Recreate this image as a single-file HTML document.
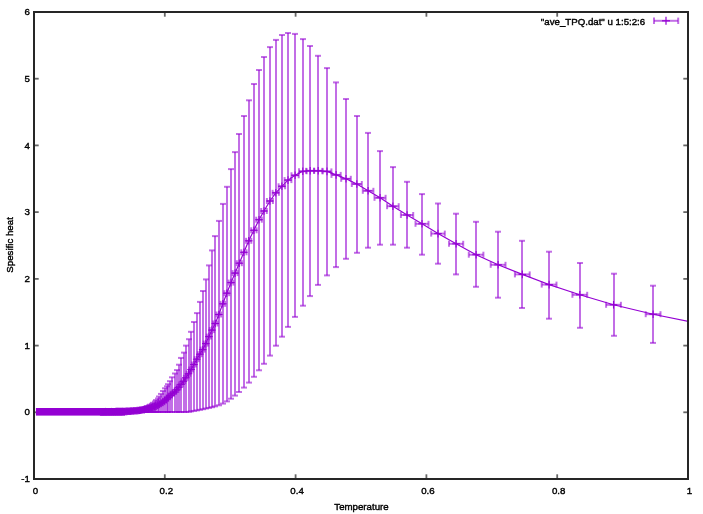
<!DOCTYPE html>
<html><head><meta charset="utf-8"><style>
html,body{margin:0;padding:0;background:#fff;}
body{width:703px;height:514px;overflow:hidden;}
svg{display:block;will-change:transform;}
text{font-family:"Liberation Sans",sans-serif;font-size:9.7px;fill:#000;stroke:#000;stroke-width:0.4px;}
</style></head><body>
<svg width="703" height="514" viewBox="0 0 703 514">
<rect width="703" height="514" fill="#fff"/>
<g stroke="#000" stroke-opacity="0.6" stroke-width="1.8" fill="none">
<line x1="34.0" y1="412.3" x2="38.7" y2="412.3"/>
<line x1="688.0" y1="412.3" x2="683.3" y2="412.3"/>
<line x1="34.0" y1="345.6" x2="38.7" y2="345.6"/>
<line x1="688.0" y1="345.6" x2="683.3" y2="345.6"/>
<line x1="34.0" y1="278.9" x2="38.7" y2="278.9"/>
<line x1="688.0" y1="278.9" x2="683.3" y2="278.9"/>
<line x1="34.0" y1="212.1" x2="38.7" y2="212.1"/>
<line x1="688.0" y1="212.1" x2="683.3" y2="212.1"/>
<line x1="34.0" y1="145.4" x2="38.7" y2="145.4"/>
<line x1="688.0" y1="145.4" x2="683.3" y2="145.4"/>
<line x1="34.0" y1="78.7" x2="38.7" y2="78.7"/>
<line x1="688.0" y1="78.7" x2="683.3" y2="78.7"/>
<line x1="164.8" y1="479.0" x2="164.8" y2="474.3"/>
<line x1="164.8" y1="12.0" x2="164.8" y2="16.7"/>
<line x1="295.6" y1="479.0" x2="295.6" y2="474.3"/>
<line x1="295.6" y1="12.0" x2="295.6" y2="16.7"/>
<line x1="426.4" y1="479.0" x2="426.4" y2="474.3"/>
<line x1="426.4" y1="12.0" x2="426.4" y2="16.7"/>
<line x1="557.2" y1="479.0" x2="557.2" y2="474.3"/>
<line x1="557.2" y1="12.0" x2="557.2" y2="16.7"/>
</g>
<svg x="0" y="0" width="703" height="514" overflow="visible">
<defs><clipPath id="c"><rect x="34.0" y="12.0" width="654.0" height="467.0"/></clipPath></defs>
<g clip-path="url(#c)">
<g stroke="#9400d3" fill="none" stroke-linecap="butt">
<rect x="35.9" y="408.0" width="89.1" height="7.6" fill="#9400d3" stroke="none"/>
<line x1="653.0" y1="285.7" x2="653.0" y2="342.9" stroke-width="2" stroke-opacity="0.57"/>
<line x1="650.0" y1="285.7" x2="656.0" y2="285.7" stroke-width="2" stroke-opacity="0.57"/>
<line x1="650.0" y1="342.9" x2="656.0" y2="342.9" stroke-width="2" stroke-opacity="0.57"/>
<line x1="645.7" y1="314.2" x2="660.5" y2="314.2" stroke-width="2" stroke-opacity="0.57"/>
<line x1="645.7" y1="311.2" x2="645.7" y2="317.2" stroke-width="2" stroke-opacity="0.57"/>
<line x1="660.5" y1="311.2" x2="660.5" y2="317.2" stroke-width="2" stroke-opacity="0.57"/>
<line x1="649.3" y1="314.2" x2="656.9" y2="314.2" stroke-width="1.1" stroke-opacity="1"/>
<line x1="653.1" y1="310.4" x2="653.1" y2="318.0" stroke-width="1.1" stroke-opacity="1"/>
<line x1="614.0" y1="273.7" x2="614.0" y2="335.8" stroke-width="2" stroke-opacity="0.57"/>
<line x1="611.0" y1="273.7" x2="617.0" y2="273.7" stroke-width="2" stroke-opacity="0.57"/>
<line x1="611.0" y1="335.8" x2="617.0" y2="335.8" stroke-width="2" stroke-opacity="0.57"/>
<line x1="606.1" y1="304.8" x2="620.9" y2="304.8" stroke-width="2" stroke-opacity="0.57"/>
<line x1="606.1" y1="301.8" x2="606.1" y2="307.8" stroke-width="2" stroke-opacity="0.57"/>
<line x1="620.9" y1="301.8" x2="620.9" y2="307.8" stroke-width="2" stroke-opacity="0.57"/>
<line x1="609.7" y1="304.8" x2="617.3" y2="304.8" stroke-width="1.1" stroke-opacity="1"/>
<line x1="613.5" y1="301.0" x2="613.5" y2="308.6" stroke-width="1.1" stroke-opacity="1"/>
<line x1="580.0" y1="263.0" x2="580.0" y2="327.8" stroke-width="2" stroke-opacity="0.57"/>
<line x1="577.0" y1="263.0" x2="583.0" y2="263.0" stroke-width="2" stroke-opacity="0.57"/>
<line x1="577.0" y1="327.8" x2="583.0" y2="327.8" stroke-width="2" stroke-opacity="0.57"/>
<line x1="572.4" y1="294.8" x2="587.2" y2="294.8" stroke-width="2" stroke-opacity="0.57"/>
<line x1="572.4" y1="291.8" x2="572.4" y2="297.8" stroke-width="2" stroke-opacity="0.57"/>
<line x1="587.2" y1="291.8" x2="587.2" y2="297.8" stroke-width="2" stroke-opacity="0.57"/>
<line x1="576.0" y1="294.8" x2="583.6" y2="294.8" stroke-width="1.1" stroke-opacity="1"/>
<line x1="579.8" y1="291.0" x2="579.8" y2="298.6" stroke-width="1.1" stroke-opacity="1"/>
<line x1="549.0" y1="251.7" x2="549.0" y2="318.7" stroke-width="2" stroke-opacity="0.57"/>
<line x1="546.0" y1="251.7" x2="552.0" y2="251.7" stroke-width="2" stroke-opacity="0.57"/>
<line x1="546.0" y1="318.7" x2="552.0" y2="318.7" stroke-width="2" stroke-opacity="0.57"/>
<line x1="541.7" y1="284.6" x2="556.5" y2="284.6" stroke-width="2" stroke-opacity="0.57"/>
<line x1="541.7" y1="281.6" x2="541.7" y2="287.6" stroke-width="2" stroke-opacity="0.57"/>
<line x1="556.5" y1="281.6" x2="556.5" y2="287.6" stroke-width="2" stroke-opacity="0.57"/>
<line x1="545.3" y1="284.6" x2="552.9" y2="284.6" stroke-width="1.1" stroke-opacity="1"/>
<line x1="549.1" y1="280.8" x2="549.1" y2="288.4" stroke-width="1.1" stroke-opacity="1"/>
<line x1="522.0" y1="240.8" x2="522.0" y2="308.0" stroke-width="2" stroke-opacity="0.57"/>
<line x1="519.0" y1="240.8" x2="525.0" y2="240.8" stroke-width="2" stroke-opacity="0.57"/>
<line x1="519.0" y1="308.0" x2="525.0" y2="308.0" stroke-width="2" stroke-opacity="0.57"/>
<line x1="514.9" y1="274.4" x2="529.7" y2="274.4" stroke-width="2" stroke-opacity="0.57"/>
<line x1="514.9" y1="271.4" x2="514.9" y2="277.4" stroke-width="2" stroke-opacity="0.57"/>
<line x1="529.7" y1="271.4" x2="529.7" y2="277.4" stroke-width="2" stroke-opacity="0.57"/>
<line x1="518.5" y1="274.4" x2="526.1" y2="274.4" stroke-width="1.1" stroke-opacity="1"/>
<line x1="522.3" y1="270.6" x2="522.3" y2="278.2" stroke-width="1.1" stroke-opacity="1"/>
<line x1="498.0" y1="231.7" x2="498.0" y2="297.7" stroke-width="2" stroke-opacity="0.57"/>
<line x1="495.0" y1="231.7" x2="501.0" y2="231.7" stroke-width="2" stroke-opacity="0.57"/>
<line x1="495.0" y1="297.7" x2="501.0" y2="297.7" stroke-width="2" stroke-opacity="0.57"/>
<line x1="490.7" y1="264.8" x2="505.5" y2="264.8" stroke-width="2" stroke-opacity="0.57"/>
<line x1="490.7" y1="261.8" x2="490.7" y2="267.8" stroke-width="2" stroke-opacity="0.57"/>
<line x1="505.5" y1="261.8" x2="505.5" y2="267.8" stroke-width="2" stroke-opacity="0.57"/>
<line x1="494.3" y1="264.8" x2="501.9" y2="264.8" stroke-width="1.1" stroke-opacity="1"/>
<line x1="498.1" y1="261.0" x2="498.1" y2="268.6" stroke-width="1.1" stroke-opacity="1"/>
<line x1="476.0" y1="221.8" x2="476.0" y2="286.8" stroke-width="2" stroke-opacity="0.57"/>
<line x1="473.0" y1="221.8" x2="479.0" y2="221.8" stroke-width="2" stroke-opacity="0.57"/>
<line x1="473.0" y1="286.8" x2="479.0" y2="286.8" stroke-width="2" stroke-opacity="0.57"/>
<line x1="468.8" y1="254.7" x2="483.4" y2="254.7" stroke-width="2" stroke-opacity="0.57"/>
<line x1="468.8" y1="251.7" x2="468.8" y2="257.7" stroke-width="2" stroke-opacity="0.57"/>
<line x1="483.4" y1="251.7" x2="483.4" y2="257.7" stroke-width="2" stroke-opacity="0.57"/>
<line x1="472.3" y1="254.7" x2="479.9" y2="254.7" stroke-width="1.1" stroke-opacity="1"/>
<line x1="476.1" y1="250.9" x2="476.1" y2="258.5" stroke-width="1.1" stroke-opacity="1"/>
<line x1="456.0" y1="213.7" x2="456.0" y2="274.4" stroke-width="2" stroke-opacity="0.57"/>
<line x1="453.0" y1="213.7" x2="459.0" y2="213.7" stroke-width="2" stroke-opacity="0.57"/>
<line x1="453.0" y1="274.4" x2="459.0" y2="274.4" stroke-width="2" stroke-opacity="0.57"/>
<line x1="449.0" y1="243.8" x2="463.2" y2="243.8" stroke-width="2" stroke-opacity="0.57"/>
<line x1="449.0" y1="240.8" x2="449.0" y2="246.8" stroke-width="2" stroke-opacity="0.57"/>
<line x1="463.2" y1="240.8" x2="463.2" y2="246.8" stroke-width="2" stroke-opacity="0.57"/>
<line x1="452.3" y1="243.8" x2="459.9" y2="243.8" stroke-width="1.1" stroke-opacity="1"/>
<line x1="456.1" y1="240.0" x2="456.1" y2="247.6" stroke-width="1.1" stroke-opacity="1"/>
<line x1="438.0" y1="203.5" x2="438.0" y2="263.7" stroke-width="2" stroke-opacity="0.57"/>
<line x1="435.0" y1="203.5" x2="441.0" y2="203.5" stroke-width="2" stroke-opacity="0.57"/>
<line x1="435.0" y1="263.7" x2="441.0" y2="263.7" stroke-width="2" stroke-opacity="0.57"/>
<line x1="431.2" y1="233.6" x2="444.8" y2="233.6" stroke-width="2" stroke-opacity="0.57"/>
<line x1="431.2" y1="230.6" x2="431.2" y2="236.6" stroke-width="2" stroke-opacity="0.57"/>
<line x1="444.8" y1="230.6" x2="444.8" y2="236.6" stroke-width="2" stroke-opacity="0.57"/>
<line x1="434.2" y1="233.6" x2="441.8" y2="233.6" stroke-width="1.1" stroke-opacity="1"/>
<line x1="438.0" y1="229.8" x2="438.0" y2="237.4" stroke-width="1.1" stroke-opacity="1"/>
<line x1="422.0" y1="194.1" x2="422.0" y2="254.7" stroke-width="2" stroke-opacity="0.57"/>
<line x1="419.0" y1="194.1" x2="425.0" y2="194.1" stroke-width="2" stroke-opacity="0.57"/>
<line x1="419.0" y1="254.7" x2="425.0" y2="254.7" stroke-width="2" stroke-opacity="0.57"/>
<line x1="415.5" y1="223.8" x2="428.5" y2="223.8" stroke-width="2" stroke-opacity="0.57"/>
<line x1="415.5" y1="220.8" x2="415.5" y2="226.8" stroke-width="2" stroke-opacity="0.57"/>
<line x1="428.5" y1="220.8" x2="428.5" y2="226.8" stroke-width="2" stroke-opacity="0.57"/>
<line x1="418.2" y1="223.8" x2="425.8" y2="223.8" stroke-width="1.1" stroke-opacity="1"/>
<line x1="422.0" y1="220.0" x2="422.0" y2="227.6" stroke-width="1.1" stroke-opacity="1"/>
<line x1="407.0" y1="181.8" x2="407.0" y2="247.7" stroke-width="2" stroke-opacity="0.57"/>
<line x1="404.0" y1="181.8" x2="410.0" y2="181.8" stroke-width="2" stroke-opacity="0.57"/>
<line x1="404.0" y1="247.7" x2="410.0" y2="247.7" stroke-width="2" stroke-opacity="0.57"/>
<line x1="400.9" y1="215.0" x2="413.2" y2="215.0" stroke-width="2" stroke-opacity="0.57"/>
<line x1="400.9" y1="212.0" x2="400.9" y2="218.0" stroke-width="2" stroke-opacity="0.57"/>
<line x1="413.2" y1="212.0" x2="413.2" y2="218.0" stroke-width="2" stroke-opacity="0.57"/>
<line x1="403.2" y1="215.0" x2="410.9" y2="215.0" stroke-width="1.1" stroke-opacity="1"/>
<line x1="407.1" y1="211.2" x2="407.1" y2="218.8" stroke-width="1.1" stroke-opacity="1"/>
<line x1="393.0" y1="167.1" x2="393.0" y2="244.7" stroke-width="2" stroke-opacity="0.57"/>
<line x1="390.0" y1="167.1" x2="396.0" y2="167.1" stroke-width="2" stroke-opacity="0.57"/>
<line x1="390.0" y1="244.7" x2="396.0" y2="244.7" stroke-width="2" stroke-opacity="0.57"/>
<line x1="387.1" y1="206.2" x2="398.7" y2="206.2" stroke-width="2" stroke-opacity="0.57"/>
<line x1="387.1" y1="203.2" x2="387.1" y2="209.2" stroke-width="2" stroke-opacity="0.57"/>
<line x1="398.7" y1="203.2" x2="398.7" y2="209.2" stroke-width="2" stroke-opacity="0.57"/>
<line x1="389.1" y1="206.2" x2="396.7" y2="206.2" stroke-width="1.1" stroke-opacity="1"/>
<line x1="392.9" y1="202.4" x2="392.9" y2="210.0" stroke-width="1.1" stroke-opacity="1"/>
<line x1="380.0" y1="151.1" x2="380.0" y2="244.7" stroke-width="2" stroke-opacity="0.57"/>
<line x1="377.0" y1="151.1" x2="383.0" y2="151.1" stroke-width="2" stroke-opacity="0.57"/>
<line x1="377.0" y1="244.7" x2="383.0" y2="244.7" stroke-width="2" stroke-opacity="0.57"/>
<line x1="374.5" y1="197.8" x2="385.6" y2="197.8" stroke-width="2" stroke-opacity="0.57"/>
<line x1="374.5" y1="194.8" x2="374.5" y2="200.8" stroke-width="2" stroke-opacity="0.57"/>
<line x1="385.6" y1="194.8" x2="385.6" y2="200.8" stroke-width="2" stroke-opacity="0.57"/>
<line x1="376.2" y1="197.8" x2="383.9" y2="197.8" stroke-width="1.1" stroke-opacity="1"/>
<line x1="380.1" y1="194.0" x2="380.1" y2="201.6" stroke-width="1.1" stroke-opacity="1"/>
<line x1="368.0" y1="132.9" x2="368.0" y2="247.7" stroke-width="2" stroke-opacity="0.57"/>
<line x1="365.0" y1="132.9" x2="371.0" y2="132.9" stroke-width="2" stroke-opacity="0.57"/>
<line x1="365.0" y1="247.7" x2="371.0" y2="247.7" stroke-width="2" stroke-opacity="0.57"/>
<line x1="362.8" y1="190.8" x2="373.4" y2="190.8" stroke-width="2" stroke-opacity="0.57"/>
<line x1="362.8" y1="187.8" x2="362.8" y2="193.8" stroke-width="2" stroke-opacity="0.57"/>
<line x1="373.4" y1="187.8" x2="373.4" y2="193.8" stroke-width="2" stroke-opacity="0.57"/>
<line x1="364.3" y1="190.8" x2="371.9" y2="190.8" stroke-width="1.1" stroke-opacity="1"/>
<line x1="368.1" y1="187.0" x2="368.1" y2="194.6" stroke-width="1.1" stroke-opacity="1"/>
<line x1="357.0" y1="116.0" x2="357.0" y2="252.8" stroke-width="2" stroke-opacity="0.57"/>
<line x1="354.0" y1="116.0" x2="360.0" y2="116.0" stroke-width="2" stroke-opacity="0.57"/>
<line x1="354.0" y1="252.8" x2="360.0" y2="252.8" stroke-width="2" stroke-opacity="0.57"/>
<line x1="351.8" y1="184.0" x2="361.8" y2="184.0" stroke-width="2" stroke-opacity="0.57"/>
<line x1="351.8" y1="181.0" x2="351.8" y2="187.0" stroke-width="2" stroke-opacity="0.57"/>
<line x1="361.8" y1="181.0" x2="361.8" y2="187.0" stroke-width="2" stroke-opacity="0.57"/>
<line x1="353.0" y1="184.0" x2="360.6" y2="184.0" stroke-width="1.1" stroke-opacity="1"/>
<line x1="356.8" y1="180.2" x2="356.8" y2="187.8" stroke-width="1.1" stroke-opacity="1"/>
<line x1="346.0" y1="99.0" x2="346.0" y2="258.8" stroke-width="2" stroke-opacity="0.57"/>
<line x1="343.0" y1="99.0" x2="349.0" y2="99.0" stroke-width="2" stroke-opacity="0.57"/>
<line x1="343.0" y1="258.8" x2="349.0" y2="258.8" stroke-width="2" stroke-opacity="0.57"/>
<line x1="341.2" y1="178.8" x2="350.8" y2="178.8" stroke-width="2" stroke-opacity="0.57"/>
<line x1="341.2" y1="175.8" x2="341.2" y2="181.8" stroke-width="2" stroke-opacity="0.57"/>
<line x1="350.8" y1="175.8" x2="350.8" y2="181.8" stroke-width="2" stroke-opacity="0.57"/>
<line x1="342.2" y1="178.8" x2="349.8" y2="178.8" stroke-width="1.1" stroke-opacity="1"/>
<line x1="346.0" y1="175.0" x2="346.0" y2="182.6" stroke-width="1.1" stroke-opacity="1"/>
<line x1="336.0" y1="82.4" x2="336.0" y2="267.1" stroke-width="2" stroke-opacity="0.57"/>
<line x1="333.0" y1="82.4" x2="339.0" y2="82.4" stroke-width="2" stroke-opacity="0.57"/>
<line x1="333.0" y1="267.1" x2="339.0" y2="267.1" stroke-width="2" stroke-opacity="0.57"/>
<line x1="331.5" y1="174.9" x2="340.7" y2="174.9" stroke-width="2" stroke-opacity="0.57"/>
<line x1="331.5" y1="171.9" x2="331.5" y2="177.9" stroke-width="2" stroke-opacity="0.57"/>
<line x1="340.7" y1="171.9" x2="340.7" y2="177.9" stroke-width="2" stroke-opacity="0.57"/>
<line x1="332.3" y1="174.9" x2="339.9" y2="174.9" stroke-width="1.1" stroke-opacity="1"/>
<line x1="336.1" y1="171.1" x2="336.1" y2="178.7" stroke-width="1.1" stroke-opacity="1"/>
<line x1="327.0" y1="68.1" x2="327.0" y2="275.4" stroke-width="2" stroke-opacity="0.57"/>
<line x1="324.0" y1="68.1" x2="330.0" y2="68.1" stroke-width="2" stroke-opacity="0.57"/>
<line x1="324.0" y1="275.4" x2="330.0" y2="275.4" stroke-width="2" stroke-opacity="0.57"/>
<line x1="322.6" y1="171.4" x2="331.4" y2="171.4" stroke-width="2" stroke-opacity="0.57"/>
<line x1="322.6" y1="168.4" x2="322.6" y2="174.4" stroke-width="2" stroke-opacity="0.57"/>
<line x1="331.4" y1="168.4" x2="331.4" y2="174.4" stroke-width="2" stroke-opacity="0.57"/>
<line x1="323.2" y1="171.4" x2="330.8" y2="171.4" stroke-width="1.1" stroke-opacity="1"/>
<line x1="327.0" y1="167.6" x2="327.0" y2="175.2" stroke-width="1.1" stroke-opacity="1"/>
<line x1="318.0" y1="55.8" x2="318.0" y2="284.9" stroke-width="2" stroke-opacity="0.57"/>
<line x1="315.0" y1="55.8" x2="321.0" y2="55.8" stroke-width="2" stroke-opacity="0.57"/>
<line x1="315.0" y1="284.9" x2="321.0" y2="284.9" stroke-width="2" stroke-opacity="0.57"/>
<line x1="314.0" y1="170.8" x2="322.4" y2="170.8" stroke-width="2" stroke-opacity="0.57"/>
<line x1="314.0" y1="167.8" x2="314.0" y2="173.8" stroke-width="2" stroke-opacity="0.57"/>
<line x1="322.4" y1="167.8" x2="322.4" y2="173.8" stroke-width="2" stroke-opacity="0.57"/>
<line x1="314.4" y1="170.8" x2="322.0" y2="170.8" stroke-width="1.1" stroke-opacity="1"/>
<line x1="318.2" y1="167.0" x2="318.2" y2="174.6" stroke-width="1.1" stroke-opacity="1"/>
<line x1="310.0" y1="46.0" x2="310.0" y2="296.1" stroke-width="2" stroke-opacity="0.57"/>
<line x1="307.0" y1="46.0" x2="313.0" y2="46.0" stroke-width="2" stroke-opacity="0.57"/>
<line x1="307.0" y1="296.1" x2="313.0" y2="296.1" stroke-width="2" stroke-opacity="0.57"/>
<line x1="306.2" y1="170.8" x2="314.2" y2="170.8" stroke-width="2" stroke-opacity="0.57"/>
<line x1="306.2" y1="167.8" x2="306.2" y2="173.8" stroke-width="2" stroke-opacity="0.57"/>
<line x1="314.2" y1="167.8" x2="314.2" y2="173.8" stroke-width="2" stroke-opacity="0.57"/>
<line x1="306.4" y1="170.8" x2="314.0" y2="170.8" stroke-width="1.1" stroke-opacity="1"/>
<line x1="310.2" y1="167.0" x2="310.2" y2="174.6" stroke-width="1.1" stroke-opacity="1"/>
<line x1="303.0" y1="39.1" x2="303.0" y2="305.7" stroke-width="2" stroke-opacity="0.57"/>
<line x1="300.0" y1="39.1" x2="306.0" y2="39.1" stroke-width="2" stroke-opacity="0.57"/>
<line x1="300.0" y1="305.7" x2="306.0" y2="305.7" stroke-width="2" stroke-opacity="0.57"/>
<line x1="299.0" y1="171.3" x2="306.6" y2="171.3" stroke-width="2" stroke-opacity="0.57"/>
<line x1="299.0" y1="168.3" x2="299.0" y2="174.3" stroke-width="2" stroke-opacity="0.57"/>
<line x1="306.6" y1="168.3" x2="306.6" y2="174.3" stroke-width="2" stroke-opacity="0.57"/>
<line x1="299.0" y1="171.3" x2="306.6" y2="171.3" stroke-width="1.1" stroke-opacity="1"/>
<line x1="302.8" y1="167.5" x2="302.8" y2="175.1" stroke-width="1.1" stroke-opacity="1"/>
<line x1="295.0" y1="33.9" x2="295.0" y2="316.9" stroke-width="2" stroke-opacity="0.57"/>
<line x1="292.0" y1="33.9" x2="298.0" y2="33.9" stroke-width="2" stroke-opacity="0.57"/>
<line x1="292.0" y1="316.9" x2="298.0" y2="316.9" stroke-width="2" stroke-opacity="0.57"/>
<line x1="291.5" y1="175.3" x2="298.7" y2="175.3" stroke-width="2" stroke-opacity="0.57"/>
<line x1="291.5" y1="172.3" x2="291.5" y2="178.3" stroke-width="2" stroke-opacity="0.57"/>
<line x1="298.7" y1="172.3" x2="298.7" y2="178.3" stroke-width="2" stroke-opacity="0.57"/>
<line x1="291.3" y1="175.3" x2="298.9" y2="175.3" stroke-width="1.1" stroke-opacity="1"/>
<line x1="295.1" y1="171.5" x2="295.1" y2="179.1" stroke-width="1.1" stroke-opacity="1"/>
<line x1="288.0" y1="33.0" x2="288.0" y2="326.9" stroke-width="2" stroke-opacity="0.57"/>
<line x1="285.0" y1="33.0" x2="291.0" y2="33.0" stroke-width="2" stroke-opacity="0.57"/>
<line x1="285.0" y1="326.9" x2="291.0" y2="326.9" stroke-width="2" stroke-opacity="0.57"/>
<line x1="284.6" y1="180.1" x2="291.4" y2="180.1" stroke-width="2" stroke-opacity="0.57"/>
<line x1="284.6" y1="177.1" x2="284.6" y2="183.1" stroke-width="2" stroke-opacity="0.57"/>
<line x1="291.4" y1="177.1" x2="291.4" y2="183.1" stroke-width="2" stroke-opacity="0.57"/>
<line x1="284.2" y1="180.1" x2="291.8" y2="180.1" stroke-width="1.1" stroke-opacity="1"/>
<line x1="288.0" y1="176.3" x2="288.0" y2="183.9" stroke-width="1.1" stroke-opacity="1"/>
<line x1="282.0" y1="35.0" x2="282.0" y2="336.7" stroke-width="2" stroke-opacity="0.57"/>
<line x1="279.0" y1="35.0" x2="285.0" y2="35.0" stroke-width="2" stroke-opacity="0.57"/>
<line x1="279.0" y1="336.7" x2="285.0" y2="336.7" stroke-width="2" stroke-opacity="0.57"/>
<line x1="278.6" y1="186.3" x2="285.1" y2="186.3" stroke-width="2" stroke-opacity="0.57"/>
<line x1="278.6" y1="183.3" x2="278.6" y2="189.3" stroke-width="2" stroke-opacity="0.57"/>
<line x1="285.1" y1="183.3" x2="285.1" y2="189.3" stroke-width="2" stroke-opacity="0.57"/>
<line x1="278.1" y1="186.3" x2="285.7" y2="186.3" stroke-width="1.1" stroke-opacity="1"/>
<line x1="281.9" y1="182.5" x2="281.9" y2="190.1" stroke-width="1.1" stroke-opacity="1"/>
<line x1="276.0" y1="39.9" x2="276.0" y2="345.7" stroke-width="2" stroke-opacity="0.57"/>
<line x1="273.0" y1="39.9" x2="279.0" y2="39.9" stroke-width="2" stroke-opacity="0.57"/>
<line x1="273.0" y1="345.7" x2="279.0" y2="345.7" stroke-width="2" stroke-opacity="0.57"/>
<line x1="272.6" y1="192.8" x2="278.9" y2="192.8" stroke-width="2" stroke-opacity="0.57"/>
<line x1="272.6" y1="189.8" x2="272.6" y2="195.8" stroke-width="2" stroke-opacity="0.57"/>
<line x1="278.9" y1="189.8" x2="278.9" y2="195.8" stroke-width="2" stroke-opacity="0.57"/>
<line x1="271.9" y1="192.8" x2="279.6" y2="192.8" stroke-width="1.1" stroke-opacity="1"/>
<line x1="275.8" y1="189.0" x2="275.8" y2="196.6" stroke-width="1.1" stroke-opacity="1"/>
<line x1="270.0" y1="47.1" x2="270.0" y2="355.6" stroke-width="2" stroke-opacity="0.57"/>
<line x1="267.0" y1="47.1" x2="273.0" y2="47.1" stroke-width="2" stroke-opacity="0.57"/>
<line x1="267.0" y1="355.6" x2="273.0" y2="355.6" stroke-width="2" stroke-opacity="0.57"/>
<line x1="266.9" y1="201.0" x2="272.9" y2="201.0" stroke-width="2" stroke-opacity="0.57"/>
<line x1="266.9" y1="198.0" x2="266.9" y2="204.0" stroke-width="2" stroke-opacity="0.57"/>
<line x1="272.9" y1="198.0" x2="272.9" y2="204.0" stroke-width="2" stroke-opacity="0.57"/>
<line x1="266.1" y1="201.0" x2="273.7" y2="201.0" stroke-width="1.1" stroke-opacity="1"/>
<line x1="269.9" y1="197.2" x2="269.9" y2="204.8" stroke-width="1.1" stroke-opacity="1"/>
<line x1="264.0" y1="57.0" x2="264.0" y2="363.8" stroke-width="2" stroke-opacity="0.57"/>
<line x1="261.0" y1="57.0" x2="267.0" y2="57.0" stroke-width="2" stroke-opacity="0.57"/>
<line x1="261.0" y1="363.8" x2="267.0" y2="363.8" stroke-width="2" stroke-opacity="0.57"/>
<line x1="261.2" y1="211.0" x2="266.8" y2="211.0" stroke-width="2" stroke-opacity="0.57"/>
<line x1="261.2" y1="208.0" x2="261.2" y2="214.0" stroke-width="2" stroke-opacity="0.57"/>
<line x1="266.8" y1="208.0" x2="266.8" y2="214.0" stroke-width="2" stroke-opacity="0.57"/>
<line x1="260.2" y1="211.0" x2="267.8" y2="211.0" stroke-width="1.1" stroke-opacity="1"/>
<line x1="264.0" y1="207.2" x2="264.0" y2="214.8" stroke-width="1.1" stroke-opacity="1"/>
<line x1="259.0" y1="70.0" x2="259.0" y2="370.3" stroke-width="2" stroke-opacity="0.57"/>
<line x1="256.0" y1="70.0" x2="262.0" y2="70.0" stroke-width="2" stroke-opacity="0.57"/>
<line x1="256.0" y1="370.3" x2="262.0" y2="370.3" stroke-width="2" stroke-opacity="0.57"/>
<line x1="256.2" y1="219.7" x2="261.8" y2="219.7" stroke-width="2" stroke-opacity="0.57"/>
<line x1="256.2" y1="216.7" x2="256.2" y2="222.7" stroke-width="2" stroke-opacity="0.57"/>
<line x1="261.8" y1="216.7" x2="261.8" y2="222.7" stroke-width="2" stroke-opacity="0.57"/>
<line x1="255.2" y1="219.7" x2="262.8" y2="219.7" stroke-width="1.1" stroke-opacity="1"/>
<line x1="259.0" y1="215.9" x2="259.0" y2="223.5" stroke-width="1.1" stroke-opacity="1"/>
<line x1="254.0" y1="84.0" x2="254.0" y2="376.8" stroke-width="2" stroke-opacity="0.57"/>
<line x1="251.0" y1="84.0" x2="257.0" y2="84.0" stroke-width="2" stroke-opacity="0.57"/>
<line x1="251.0" y1="376.8" x2="257.0" y2="376.8" stroke-width="2" stroke-opacity="0.57"/>
<line x1="251.2" y1="230.3" x2="256.6" y2="230.3" stroke-width="2" stroke-opacity="0.57"/>
<line x1="251.2" y1="227.3" x2="251.2" y2="233.3" stroke-width="2" stroke-opacity="0.57"/>
<line x1="256.6" y1="227.3" x2="256.6" y2="233.3" stroke-width="2" stroke-opacity="0.57"/>
<line x1="250.1" y1="230.3" x2="257.7" y2="230.3" stroke-width="1.1" stroke-opacity="1"/>
<line x1="253.9" y1="226.5" x2="253.9" y2="234.1" stroke-width="1.1" stroke-opacity="1"/>
<line x1="249.0" y1="100.3" x2="249.0" y2="382.6" stroke-width="2" stroke-opacity="0.57"/>
<line x1="246.0" y1="100.3" x2="252.0" y2="100.3" stroke-width="2" stroke-opacity="0.57"/>
<line x1="246.0" y1="382.6" x2="252.0" y2="382.6" stroke-width="2" stroke-opacity="0.57"/>
<line x1="246.1" y1="240.8" x2="251.3" y2="240.8" stroke-width="2" stroke-opacity="0.57"/>
<line x1="246.1" y1="237.8" x2="246.1" y2="243.8" stroke-width="2" stroke-opacity="0.57"/>
<line x1="251.3" y1="237.8" x2="251.3" y2="243.8" stroke-width="2" stroke-opacity="0.57"/>
<line x1="244.9" y1="240.8" x2="252.5" y2="240.8" stroke-width="1.1" stroke-opacity="1"/>
<line x1="248.7" y1="237.0" x2="248.7" y2="244.6" stroke-width="1.1" stroke-opacity="1"/>
<line x1="244.0" y1="116.0" x2="244.0" y2="387.6" stroke-width="2" stroke-opacity="0.57"/>
<line x1="241.0" y1="116.0" x2="247.0" y2="116.0" stroke-width="2" stroke-opacity="0.57"/>
<line x1="241.0" y1="387.6" x2="247.0" y2="387.6" stroke-width="2" stroke-opacity="0.57"/>
<line x1="241.3" y1="252.3" x2="246.5" y2="252.3" stroke-width="2" stroke-opacity="0.57"/>
<line x1="241.3" y1="249.3" x2="241.3" y2="255.3" stroke-width="2" stroke-opacity="0.57"/>
<line x1="246.5" y1="249.3" x2="246.5" y2="255.3" stroke-width="2" stroke-opacity="0.57"/>
<line x1="240.1" y1="252.3" x2="247.7" y2="252.3" stroke-width="1.1" stroke-opacity="1"/>
<line x1="243.9" y1="248.5" x2="243.9" y2="256.1" stroke-width="1.1" stroke-opacity="1"/>
<line x1="239.0" y1="134.0" x2="239.0" y2="392.0" stroke-width="2" stroke-opacity="0.57"/>
<line x1="236.0" y1="134.0" x2="242.0" y2="134.0" stroke-width="2" stroke-opacity="0.57"/>
<line x1="236.0" y1="392.0" x2="242.0" y2="392.0" stroke-width="2" stroke-opacity="0.57"/>
<line x1="236.8" y1="263.2" x2="241.8" y2="263.2" stroke-width="2" stroke-opacity="0.57"/>
<line x1="236.8" y1="260.2" x2="236.8" y2="266.2" stroke-width="2" stroke-opacity="0.57"/>
<line x1="241.8" y1="260.2" x2="241.8" y2="266.2" stroke-width="2" stroke-opacity="0.57"/>
<line x1="235.5" y1="263.2" x2="243.1" y2="263.2" stroke-width="1.1" stroke-opacity="1"/>
<line x1="239.3" y1="259.4" x2="239.3" y2="267.0" stroke-width="1.1" stroke-opacity="1"/>
<line x1="235.0" y1="152.1" x2="235.0" y2="395.6" stroke-width="2" stroke-opacity="0.57"/>
<line x1="232.0" y1="152.1" x2="238.0" y2="152.1" stroke-width="2" stroke-opacity="0.57"/>
<line x1="232.0" y1="395.6" x2="238.0" y2="395.6" stroke-width="2" stroke-opacity="0.57"/>
<line x1="232.6" y1="273.1" x2="237.6" y2="273.1" stroke-width="2" stroke-opacity="0.57"/>
<line x1="232.6" y1="270.1" x2="232.6" y2="276.1" stroke-width="2" stroke-opacity="0.57"/>
<line x1="237.6" y1="270.1" x2="237.6" y2="276.1" stroke-width="2" stroke-opacity="0.57"/>
<line x1="231.3" y1="273.1" x2="238.9" y2="273.1" stroke-width="1.1" stroke-opacity="1"/>
<line x1="235.1" y1="269.3" x2="235.1" y2="276.9" stroke-width="1.1" stroke-opacity="1"/>
<line x1="231.0" y1="169.1" x2="231.0" y2="398.7" stroke-width="2" stroke-opacity="0.57"/>
<line x1="228.0" y1="169.1" x2="234.0" y2="169.1" stroke-width="2" stroke-opacity="0.57"/>
<line x1="228.0" y1="398.7" x2="234.0" y2="398.7" stroke-width="2" stroke-opacity="0.57"/>
<line x1="228.6" y1="282.6" x2="233.4" y2="282.6" stroke-width="2" stroke-opacity="0.57"/>
<line x1="228.6" y1="279.6" x2="228.6" y2="285.6" stroke-width="2" stroke-opacity="0.57"/>
<line x1="233.4" y1="279.6" x2="233.4" y2="285.6" stroke-width="2" stroke-opacity="0.57"/>
<line x1="227.2" y1="282.6" x2="234.8" y2="282.6" stroke-width="1.1" stroke-opacity="1"/>
<line x1="231.0" y1="278.8" x2="231.0" y2="286.4" stroke-width="1.1" stroke-opacity="1"/>
<line x1="227.0" y1="186.8" x2="227.0" y2="401.4" stroke-width="2" stroke-opacity="0.57"/>
<line x1="224.0" y1="186.8" x2="230.0" y2="186.8" stroke-width="2" stroke-opacity="0.57"/>
<line x1="224.0" y1="401.4" x2="230.0" y2="401.4" stroke-width="2" stroke-opacity="0.57"/>
<line x1="224.4" y1="293.2" x2="229.2" y2="293.2" stroke-width="2" stroke-opacity="0.57"/>
<line x1="224.4" y1="290.2" x2="224.4" y2="296.2" stroke-width="2" stroke-opacity="0.57"/>
<line x1="229.2" y1="290.2" x2="229.2" y2="296.2" stroke-width="2" stroke-opacity="0.57"/>
<line x1="223.0" y1="293.2" x2="230.6" y2="293.2" stroke-width="1.1" stroke-opacity="1"/>
<line x1="226.8" y1="289.4" x2="226.8" y2="297.0" stroke-width="1.1" stroke-opacity="1"/>
<line x1="223.0" y1="203.9" x2="223.0" y2="403.6" stroke-width="2" stroke-opacity="0.57"/>
<line x1="220.0" y1="203.9" x2="226.0" y2="203.9" stroke-width="2" stroke-opacity="0.57"/>
<line x1="220.0" y1="403.6" x2="226.0" y2="403.6" stroke-width="2" stroke-opacity="0.57"/>
<line x1="220.5" y1="303.8" x2="225.1" y2="303.8" stroke-width="2" stroke-opacity="0.57"/>
<line x1="220.5" y1="300.8" x2="220.5" y2="306.8" stroke-width="2" stroke-opacity="0.57"/>
<line x1="225.1" y1="300.8" x2="225.1" y2="306.8" stroke-width="2" stroke-opacity="0.57"/>
<line x1="219.0" y1="303.8" x2="226.6" y2="303.8" stroke-width="1.1" stroke-opacity="1"/>
<line x1="222.8" y1="300.0" x2="222.8" y2="307.6" stroke-width="1.1" stroke-opacity="1"/>
<line x1="219.0" y1="220.9" x2="219.0" y2="405.3" stroke-width="2" stroke-opacity="0.57"/>
<line x1="216.0" y1="220.9" x2="222.0" y2="220.9" stroke-width="2" stroke-opacity="0.57"/>
<line x1="216.0" y1="405.3" x2="222.0" y2="405.3" stroke-width="2" stroke-opacity="0.57"/>
<line x1="216.5" y1="314.5" x2="221.1" y2="314.5" stroke-width="2" stroke-opacity="0.57"/>
<line x1="216.5" y1="311.5" x2="216.5" y2="317.5" stroke-width="2" stroke-opacity="0.57"/>
<line x1="221.1" y1="311.5" x2="221.1" y2="317.5" stroke-width="2" stroke-opacity="0.57"/>
<line x1="215.0" y1="314.5" x2="222.6" y2="314.5" stroke-width="1.1" stroke-opacity="1"/>
<line x1="218.8" y1="310.7" x2="218.8" y2="318.3" stroke-width="1.1" stroke-opacity="1"/>
<line x1="215.0" y1="236.1" x2="215.0" y2="406.4" stroke-width="2" stroke-opacity="0.57"/>
<line x1="212.0" y1="236.1" x2="218.0" y2="236.1" stroke-width="2" stroke-opacity="0.57"/>
<line x1="212.0" y1="406.4" x2="218.0" y2="406.4" stroke-width="2" stroke-opacity="0.57"/>
<line x1="213.1" y1="323.5" x2="217.5" y2="323.5" stroke-width="2" stroke-opacity="0.57"/>
<line x1="213.1" y1="320.5" x2="213.1" y2="326.5" stroke-width="2" stroke-opacity="0.57"/>
<line x1="217.5" y1="320.5" x2="217.5" y2="326.5" stroke-width="2" stroke-opacity="0.57"/>
<line x1="211.5" y1="323.5" x2="219.1" y2="323.5" stroke-width="1.1" stroke-opacity="1"/>
<line x1="215.3" y1="319.7" x2="215.3" y2="327.3" stroke-width="1.1" stroke-opacity="1"/>
<line x1="212.0" y1="250.4" x2="212.0" y2="407.2" stroke-width="2" stroke-opacity="0.57"/>
<line x1="209.0" y1="250.4" x2="215.0" y2="250.4" stroke-width="2" stroke-opacity="0.57"/>
<line x1="209.0" y1="407.2" x2="215.0" y2="407.2" stroke-width="2" stroke-opacity="0.57"/>
<line x1="209.7" y1="330.1" x2="214.1" y2="330.1" stroke-width="2" stroke-opacity="0.57"/>
<line x1="209.7" y1="327.1" x2="209.7" y2="333.1" stroke-width="2" stroke-opacity="0.57"/>
<line x1="214.1" y1="327.1" x2="214.1" y2="333.1" stroke-width="2" stroke-opacity="0.57"/>
<line x1="208.1" y1="330.1" x2="215.7" y2="330.1" stroke-width="1.1" stroke-opacity="1"/>
<line x1="211.9" y1="326.3" x2="211.9" y2="333.9" stroke-width="1.1" stroke-opacity="1"/>
<line x1="209.0" y1="265.4" x2="209.0" y2="407.9" stroke-width="2" stroke-opacity="0.57"/>
<line x1="206.0" y1="265.4" x2="212.0" y2="265.4" stroke-width="2" stroke-opacity="0.57"/>
<line x1="206.0" y1="407.9" x2="212.0" y2="407.9" stroke-width="2" stroke-opacity="0.57"/>
<line x1="206.8" y1="336.6" x2="211.0" y2="336.6" stroke-width="2" stroke-opacity="0.57"/>
<line x1="206.8" y1="333.6" x2="206.8" y2="339.6" stroke-width="2" stroke-opacity="0.57"/>
<line x1="211.0" y1="333.6" x2="211.0" y2="339.6" stroke-width="2" stroke-opacity="0.57"/>
<line x1="205.1" y1="336.6" x2="212.7" y2="336.6" stroke-width="1.1" stroke-opacity="1"/>
<line x1="208.9" y1="332.8" x2="208.9" y2="340.4" stroke-width="1.1" stroke-opacity="1"/>
<line x1="206.0" y1="279.4" x2="206.0" y2="408.5" stroke-width="2" stroke-opacity="0.57"/>
<line x1="203.0" y1="279.4" x2="209.0" y2="279.4" stroke-width="2" stroke-opacity="0.57"/>
<line x1="203.0" y1="408.5" x2="209.0" y2="408.5" stroke-width="2" stroke-opacity="0.57"/>
<line x1="203.7" y1="343.6" x2="207.9" y2="343.6" stroke-width="2" stroke-opacity="0.57"/>
<line x1="203.7" y1="340.6" x2="203.7" y2="346.6" stroke-width="2" stroke-opacity="0.57"/>
<line x1="207.9" y1="340.6" x2="207.9" y2="346.6" stroke-width="2" stroke-opacity="0.57"/>
<line x1="202.0" y1="343.6" x2="209.6" y2="343.6" stroke-width="1.1" stroke-opacity="1"/>
<line x1="205.8" y1="339.8" x2="205.8" y2="347.4" stroke-width="1.1" stroke-opacity="1"/>
<line x1="203.0" y1="291.0" x2="203.0" y2="409.2" stroke-width="2" stroke-opacity="0.57"/>
<line x1="200.0" y1="291.0" x2="206.0" y2="291.0" stroke-width="2" stroke-opacity="0.57"/>
<line x1="200.0" y1="409.2" x2="206.0" y2="409.2" stroke-width="2" stroke-opacity="0.57"/>
<line x1="200.6" y1="349.6" x2="204.8" y2="349.6" stroke-width="2" stroke-opacity="0.57"/>
<line x1="200.6" y1="346.6" x2="200.6" y2="352.6" stroke-width="2" stroke-opacity="0.57"/>
<line x1="204.8" y1="346.6" x2="204.8" y2="352.6" stroke-width="2" stroke-opacity="0.57"/>
<line x1="198.9" y1="349.6" x2="206.5" y2="349.6" stroke-width="1.1" stroke-opacity="1"/>
<line x1="202.7" y1="345.8" x2="202.7" y2="353.4" stroke-width="1.1" stroke-opacity="1"/>
<line x1="200.0" y1="301.9" x2="200.0" y2="409.8" stroke-width="2" stroke-opacity="0.57"/>
<line x1="197.0" y1="301.9" x2="203.0" y2="301.9" stroke-width="2" stroke-opacity="0.57"/>
<line x1="197.0" y1="409.8" x2="203.0" y2="409.8" stroke-width="2" stroke-opacity="0.57"/>
<line x1="197.8" y1="354.2" x2="201.8" y2="354.2" stroke-width="2" stroke-opacity="0.57"/>
<line x1="197.8" y1="351.2" x2="197.8" y2="357.2" stroke-width="2" stroke-opacity="0.57"/>
<line x1="201.8" y1="351.2" x2="201.8" y2="357.2" stroke-width="2" stroke-opacity="0.57"/>
<line x1="196.0" y1="354.2" x2="203.6" y2="354.2" stroke-width="1.1" stroke-opacity="1"/>
<line x1="199.8" y1="350.4" x2="199.8" y2="358.0" stroke-width="1.1" stroke-opacity="1"/>
<line x1="197.0" y1="313.1" x2="197.0" y2="410.4" stroke-width="2" stroke-opacity="0.57"/>
<line x1="194.0" y1="313.1" x2="200.0" y2="313.1" stroke-width="2" stroke-opacity="0.57"/>
<line x1="194.0" y1="410.4" x2="200.0" y2="410.4" stroke-width="2" stroke-opacity="0.57"/>
<line x1="194.7" y1="359.2" x2="198.7" y2="359.2" stroke-width="2" stroke-opacity="0.57"/>
<line x1="194.7" y1="356.2" x2="194.7" y2="362.2" stroke-width="2" stroke-opacity="0.57"/>
<line x1="198.7" y1="356.2" x2="198.7" y2="362.2" stroke-width="2" stroke-opacity="0.57"/>
<line x1="192.9" y1="359.2" x2="200.5" y2="359.2" stroke-width="1.1" stroke-opacity="1"/>
<line x1="196.7" y1="355.4" x2="196.7" y2="363.0" stroke-width="1.1" stroke-opacity="1"/>
<line x1="194.0" y1="322.0" x2="194.0" y2="410.9" stroke-width="2" stroke-opacity="0.57"/>
<line x1="191.0" y1="322.0" x2="197.0" y2="322.0" stroke-width="2" stroke-opacity="0.57"/>
<line x1="191.0" y1="410.9" x2="197.0" y2="410.9" stroke-width="2" stroke-opacity="0.57"/>
<line x1="191.9" y1="364.5" x2="195.9" y2="364.5" stroke-width="2" stroke-opacity="0.57"/>
<line x1="191.9" y1="361.5" x2="191.9" y2="367.5" stroke-width="2" stroke-opacity="0.57"/>
<line x1="195.9" y1="361.5" x2="195.9" y2="367.5" stroke-width="2" stroke-opacity="0.57"/>
<line x1="190.1" y1="364.5" x2="197.7" y2="364.5" stroke-width="1.1" stroke-opacity="1"/>
<line x1="193.9" y1="360.7" x2="193.9" y2="368.3" stroke-width="1.1" stroke-opacity="1"/>
<line x1="191.0" y1="331.8" x2="191.0" y2="411.4" stroke-width="2" stroke-opacity="0.57"/>
<line x1="188.0" y1="331.8" x2="194.0" y2="331.8" stroke-width="2" stroke-opacity="0.57"/>
<line x1="188.0" y1="411.4" x2="194.0" y2="411.4" stroke-width="2" stroke-opacity="0.57"/>
<line x1="189.2" y1="369.5" x2="193.0" y2="369.5" stroke-width="2" stroke-opacity="0.57"/>
<line x1="189.2" y1="366.5" x2="189.2" y2="372.5" stroke-width="2" stroke-opacity="0.57"/>
<line x1="193.0" y1="366.5" x2="193.0" y2="372.5" stroke-width="2" stroke-opacity="0.57"/>
<line x1="187.3" y1="369.5" x2="194.9" y2="369.5" stroke-width="1.1" stroke-opacity="1"/>
<line x1="191.1" y1="365.7" x2="191.1" y2="373.3" stroke-width="1.1" stroke-opacity="1"/>
<line x1="189.0" y1="339.2" x2="189.0" y2="411.8" stroke-width="2" stroke-opacity="0.57"/>
<line x1="186.0" y1="339.2" x2="192.0" y2="339.2" stroke-width="2" stroke-opacity="0.57"/>
<line x1="186.0" y1="411.8" x2="192.0" y2="411.8" stroke-width="2" stroke-opacity="0.57"/>
<line x1="186.6" y1="373.7" x2="190.4" y2="373.7" stroke-width="2" stroke-opacity="0.57"/>
<line x1="186.6" y1="370.7" x2="186.6" y2="376.7" stroke-width="2" stroke-opacity="0.57"/>
<line x1="190.4" y1="370.7" x2="190.4" y2="376.7" stroke-width="2" stroke-opacity="0.57"/>
<line x1="184.7" y1="373.7" x2="192.3" y2="373.7" stroke-width="1.1" stroke-opacity="1"/>
<line x1="188.5" y1="369.9" x2="188.5" y2="377.5" stroke-width="1.1" stroke-opacity="1"/>
<line x1="186.0" y1="345.6" x2="186.0" y2="412.0" stroke-width="2" stroke-opacity="0.57"/>
<line x1="183.0" y1="345.6" x2="189.0" y2="345.6" stroke-width="2" stroke-opacity="0.57"/>
<line x1="183.0" y1="412.0" x2="189.0" y2="412.0" stroke-width="2" stroke-opacity="0.57"/>
<line x1="183.9" y1="377.8" x2="187.7" y2="377.8" stroke-width="2" stroke-opacity="0.57"/>
<line x1="183.9" y1="374.8" x2="183.9" y2="380.8" stroke-width="2" stroke-opacity="0.57"/>
<line x1="187.7" y1="374.8" x2="187.7" y2="380.8" stroke-width="2" stroke-opacity="0.57"/>
<line x1="182.0" y1="377.8" x2="189.6" y2="377.8" stroke-width="1.1" stroke-opacity="1"/>
<line x1="185.8" y1="374.0" x2="185.8" y2="381.6" stroke-width="1.1" stroke-opacity="1"/>
<line x1="184.0" y1="352.6" x2="184.0" y2="412.0" stroke-width="2" stroke-opacity="0.57"/>
<line x1="181.0" y1="352.6" x2="187.0" y2="352.6" stroke-width="2" stroke-opacity="0.57"/>
<line x1="181.0" y1="412.0" x2="187.0" y2="412.0" stroke-width="2" stroke-opacity="0.57"/>
<line x1="181.6" y1="381.3" x2="185.2" y2="381.3" stroke-width="2" stroke-opacity="0.57"/>
<line x1="181.6" y1="378.3" x2="181.6" y2="384.3" stroke-width="2" stroke-opacity="0.57"/>
<line x1="185.2" y1="378.3" x2="185.2" y2="384.3" stroke-width="2" stroke-opacity="0.57"/>
<line x1="179.6" y1="381.3" x2="187.2" y2="381.3" stroke-width="1.1" stroke-opacity="1"/>
<line x1="183.4" y1="377.5" x2="183.4" y2="385.1" stroke-width="1.1" stroke-opacity="1"/>
<line x1="181.0" y1="357.9" x2="181.0" y2="412.0" stroke-width="2" stroke-opacity="0.57"/>
<line x1="178.0" y1="357.9" x2="184.0" y2="357.9" stroke-width="2" stroke-opacity="0.57"/>
<line x1="178.0" y1="412.0" x2="184.0" y2="412.0" stroke-width="2" stroke-opacity="0.57"/>
<line x1="179.2" y1="384.4" x2="182.8" y2="384.4" stroke-width="2" stroke-opacity="0.57"/>
<line x1="179.2" y1="381.4" x2="179.2" y2="387.4" stroke-width="2" stroke-opacity="0.57"/>
<line x1="182.8" y1="381.4" x2="182.8" y2="387.4" stroke-width="2" stroke-opacity="0.57"/>
<line x1="177.2" y1="384.4" x2="184.8" y2="384.4" stroke-width="1.1" stroke-opacity="1"/>
<line x1="181.0" y1="380.6" x2="181.0" y2="388.2" stroke-width="1.1" stroke-opacity="1"/>
<line x1="179.0" y1="364.7" x2="179.0" y2="412.0" stroke-width="2" stroke-opacity="0.57"/>
<line x1="176.0" y1="364.7" x2="182.0" y2="364.7" stroke-width="2" stroke-opacity="0.57"/>
<line x1="176.0" y1="412.0" x2="182.0" y2="412.0" stroke-width="2" stroke-opacity="0.57"/>
<line x1="177.0" y1="387.3" x2="180.5" y2="387.3" stroke-width="2" stroke-opacity="0.57"/>
<line x1="177.0" y1="384.3" x2="177.0" y2="390.3" stroke-width="2" stroke-opacity="0.57"/>
<line x1="180.5" y1="384.3" x2="180.5" y2="390.3" stroke-width="2" stroke-opacity="0.57"/>
<line x1="175.0" y1="387.3" x2="182.6" y2="387.3" stroke-width="1.1" stroke-opacity="1"/>
<line x1="178.8" y1="383.5" x2="178.8" y2="391.1" stroke-width="1.1" stroke-opacity="1"/>
<line x1="177.0" y1="370.1" x2="177.0" y2="412.0" stroke-width="2" stroke-opacity="0.57"/>
<line x1="174.0" y1="370.1" x2="180.0" y2="370.1" stroke-width="2" stroke-opacity="0.57"/>
<line x1="174.0" y1="412.0" x2="180.0" y2="412.0" stroke-width="2" stroke-opacity="0.57"/>
<line x1="174.8" y1="389.9" x2="178.3" y2="389.9" stroke-width="2" stroke-opacity="0.57"/>
<line x1="174.8" y1="386.9" x2="174.8" y2="392.9" stroke-width="2" stroke-opacity="0.57"/>
<line x1="178.3" y1="386.9" x2="178.3" y2="392.9" stroke-width="2" stroke-opacity="0.57"/>
<line x1="172.8" y1="389.9" x2="180.4" y2="389.9" stroke-width="1.1" stroke-opacity="1"/>
<line x1="176.6" y1="386.1" x2="176.6" y2="393.7" stroke-width="1.1" stroke-opacity="1"/>
<line x1="175.0" y1="373.5" x2="175.0" y2="412.0" stroke-width="2" stroke-opacity="0.57"/>
<line x1="172.0" y1="373.5" x2="178.0" y2="373.5" stroke-width="2" stroke-opacity="0.57"/>
<line x1="172.0" y1="412.0" x2="178.0" y2="412.0" stroke-width="2" stroke-opacity="0.57"/>
<line x1="172.7" y1="392.0" x2="176.1" y2="392.0" stroke-width="2" stroke-opacity="0.57"/>
<line x1="172.7" y1="389.0" x2="172.7" y2="395.0" stroke-width="2" stroke-opacity="0.57"/>
<line x1="176.1" y1="389.0" x2="176.1" y2="395.0" stroke-width="2" stroke-opacity="0.57"/>
<line x1="170.6" y1="392.0" x2="178.2" y2="392.0" stroke-width="1.1" stroke-opacity="1"/>
<line x1="174.4" y1="388.2" x2="174.4" y2="395.8" stroke-width="1.1" stroke-opacity="1"/>
<line x1="172.0" y1="377.3" x2="172.0" y2="412.0" stroke-width="2" stroke-opacity="0.57"/>
<line x1="169.0" y1="377.3" x2="175.0" y2="377.3" stroke-width="2" stroke-opacity="0.57"/>
<line x1="169.0" y1="412.0" x2="175.0" y2="412.0" stroke-width="2" stroke-opacity="0.57"/>
<line x1="170.6" y1="393.8" x2="174.0" y2="393.8" stroke-width="2" stroke-opacity="0.57"/>
<line x1="170.6" y1="390.8" x2="170.6" y2="396.8" stroke-width="2" stroke-opacity="0.57"/>
<line x1="174.0" y1="390.8" x2="174.0" y2="396.8" stroke-width="2" stroke-opacity="0.57"/>
<line x1="168.5" y1="393.8" x2="176.1" y2="393.8" stroke-width="1.1" stroke-opacity="1"/>
<line x1="172.3" y1="390.0" x2="172.3" y2="397.6" stroke-width="1.1" stroke-opacity="1"/>
<line x1="170.0" y1="381.2" x2="170.0" y2="412.0" stroke-width="2" stroke-opacity="0.57"/>
<line x1="167.0" y1="381.2" x2="173.0" y2="381.2" stroke-width="2" stroke-opacity="0.57"/>
<line x1="167.0" y1="412.0" x2="173.0" y2="412.0" stroke-width="2" stroke-opacity="0.57"/>
<line x1="168.6" y1="395.5" x2="172.0" y2="395.5" stroke-width="2" stroke-opacity="0.57"/>
<line x1="168.6" y1="392.5" x2="168.6" y2="398.5" stroke-width="2" stroke-opacity="0.57"/>
<line x1="172.0" y1="392.5" x2="172.0" y2="398.5" stroke-width="2" stroke-opacity="0.57"/>
<line x1="166.5" y1="395.5" x2="174.1" y2="395.5" stroke-width="1.1" stroke-opacity="1"/>
<line x1="170.3" y1="391.7" x2="170.3" y2="399.3" stroke-width="1.1" stroke-opacity="1"/>
<line x1="168.0" y1="384.2" x2="168.0" y2="412.0" stroke-width="2" stroke-opacity="0.57"/>
<line x1="165.0" y1="384.2" x2="171.0" y2="384.2" stroke-width="2" stroke-opacity="0.57"/>
<line x1="165.0" y1="412.0" x2="171.0" y2="412.0" stroke-width="2" stroke-opacity="0.57"/>
<line x1="166.7" y1="397.3" x2="170.0" y2="397.3" stroke-width="2" stroke-opacity="0.57"/>
<line x1="166.7" y1="394.3" x2="166.7" y2="400.3" stroke-width="2" stroke-opacity="0.57"/>
<line x1="170.0" y1="394.3" x2="170.0" y2="400.3" stroke-width="2" stroke-opacity="0.57"/>
<line x1="164.5" y1="397.3" x2="172.1" y2="397.3" stroke-width="1.1" stroke-opacity="1"/>
<line x1="168.3" y1="393.5" x2="168.3" y2="401.1" stroke-width="1.1" stroke-opacity="1"/>
<line x1="167.0" y1="386.3" x2="167.0" y2="412.0" stroke-width="2" stroke-opacity="0.57"/>
<line x1="164.0" y1="386.3" x2="170.0" y2="386.3" stroke-width="2" stroke-opacity="0.57"/>
<line x1="164.0" y1="412.0" x2="170.0" y2="412.0" stroke-width="2" stroke-opacity="0.57"/>
<line x1="164.8" y1="399.1" x2="168.1" y2="399.1" stroke-width="2" stroke-opacity="0.57"/>
<line x1="164.8" y1="396.1" x2="164.8" y2="402.1" stroke-width="2" stroke-opacity="0.57"/>
<line x1="168.1" y1="396.1" x2="168.1" y2="402.1" stroke-width="2" stroke-opacity="0.57"/>
<line x1="162.6" y1="399.1" x2="170.2" y2="399.1" stroke-width="1.1" stroke-opacity="1"/>
<line x1="166.4" y1="395.3" x2="166.4" y2="402.9" stroke-width="1.1" stroke-opacity="1"/>
<line x1="165.0" y1="388.3" x2="165.0" y2="412.0" stroke-width="2" stroke-opacity="0.57"/>
<line x1="162.0" y1="388.3" x2="168.0" y2="388.3" stroke-width="2" stroke-opacity="0.57"/>
<line x1="162.0" y1="412.0" x2="168.0" y2="412.0" stroke-width="2" stroke-opacity="0.57"/>
<line x1="163.0" y1="400.8" x2="166.2" y2="400.8" stroke-width="2" stroke-opacity="0.57"/>
<line x1="163.0" y1="397.8" x2="163.0" y2="403.8" stroke-width="2" stroke-opacity="0.57"/>
<line x1="166.2" y1="397.8" x2="166.2" y2="403.8" stroke-width="2" stroke-opacity="0.57"/>
<line x1="160.8" y1="400.8" x2="168.4" y2="400.8" stroke-width="1.1" stroke-opacity="1"/>
<line x1="164.6" y1="397.0" x2="164.6" y2="404.6" stroke-width="1.1" stroke-opacity="1"/>
<line x1="163.0" y1="391.0" x2="163.0" y2="412.0" stroke-width="2" stroke-opacity="0.57"/>
<line x1="160.0" y1="391.0" x2="166.0" y2="391.0" stroke-width="2" stroke-opacity="0.57"/>
<line x1="160.0" y1="412.0" x2="166.0" y2="412.0" stroke-width="2" stroke-opacity="0.57"/>
<line x1="161.2" y1="402.2" x2="164.4" y2="402.2" stroke-width="2" stroke-opacity="0.57"/>
<line x1="161.2" y1="399.2" x2="161.2" y2="405.2" stroke-width="2" stroke-opacity="0.57"/>
<line x1="164.4" y1="399.2" x2="164.4" y2="405.2" stroke-width="2" stroke-opacity="0.57"/>
<line x1="159.0" y1="402.2" x2="166.6" y2="402.2" stroke-width="1.1" stroke-opacity="1"/>
<line x1="162.8" y1="398.4" x2="162.8" y2="406.0" stroke-width="1.1" stroke-opacity="1"/>
<line x1="161.0" y1="393.9" x2="161.0" y2="412.0" stroke-width="2" stroke-opacity="0.57"/>
<line x1="158.0" y1="393.9" x2="164.0" y2="393.9" stroke-width="2" stroke-opacity="0.57"/>
<line x1="158.0" y1="412.0" x2="164.0" y2="412.0" stroke-width="2" stroke-opacity="0.57"/>
<line x1="159.5" y1="403.3" x2="162.6" y2="403.3" stroke-width="2" stroke-opacity="0.57"/>
<line x1="159.5" y1="400.3" x2="159.5" y2="406.3" stroke-width="2" stroke-opacity="0.57"/>
<line x1="162.6" y1="400.3" x2="162.6" y2="406.3" stroke-width="2" stroke-opacity="0.57"/>
<line x1="157.2" y1="403.3" x2="164.8" y2="403.3" stroke-width="1.1" stroke-opacity="1"/>
<line x1="161.0" y1="399.5" x2="161.0" y2="407.1" stroke-width="1.1" stroke-opacity="1"/>
<line x1="159.0" y1="396.5" x2="159.0" y2="412.0" stroke-width="2" stroke-opacity="0.57"/>
<line x1="156.0" y1="396.5" x2="162.0" y2="396.5" stroke-width="2" stroke-opacity="0.57"/>
<line x1="156.0" y1="412.0" x2="162.0" y2="412.0" stroke-width="2" stroke-opacity="0.57"/>
<line x1="157.8" y1="404.3" x2="160.9" y2="404.3" stroke-width="2" stroke-opacity="0.57"/>
<line x1="157.8" y1="401.3" x2="157.8" y2="407.3" stroke-width="2" stroke-opacity="0.57"/>
<line x1="160.9" y1="401.3" x2="160.9" y2="407.3" stroke-width="2" stroke-opacity="0.57"/>
<line x1="155.5" y1="404.3" x2="163.1" y2="404.3" stroke-width="1.1" stroke-opacity="1"/>
<line x1="159.3" y1="400.5" x2="159.3" y2="408.1" stroke-width="1.1" stroke-opacity="1"/>
<line x1="158.0" y1="398.5" x2="158.0" y2="412.0" stroke-width="2" stroke-opacity="0.57"/>
<line x1="155.0" y1="398.5" x2="161.0" y2="398.5" stroke-width="2" stroke-opacity="0.57"/>
<line x1="155.0" y1="412.0" x2="161.0" y2="412.0" stroke-width="2" stroke-opacity="0.57"/>
<line x1="156.1" y1="405.3" x2="159.2" y2="405.3" stroke-width="2" stroke-opacity="0.57"/>
<line x1="156.1" y1="402.3" x2="156.1" y2="408.3" stroke-width="2" stroke-opacity="0.57"/>
<line x1="159.2" y1="402.3" x2="159.2" y2="408.3" stroke-width="2" stroke-opacity="0.57"/>
<line x1="153.9" y1="405.3" x2="161.5" y2="405.3" stroke-width="1.1" stroke-opacity="1"/>
<line x1="157.7" y1="401.5" x2="157.7" y2="409.1" stroke-width="1.1" stroke-opacity="1"/>
<line x1="156.0" y1="400.1" x2="156.0" y2="412.0" stroke-width="2" stroke-opacity="0.57"/>
<line x1="153.0" y1="400.1" x2="159.0" y2="400.1" stroke-width="2" stroke-opacity="0.57"/>
<line x1="153.0" y1="412.0" x2="159.0" y2="412.0" stroke-width="2" stroke-opacity="0.57"/>
<line x1="154.5" y1="406.1" x2="157.5" y2="406.1" stroke-width="2" stroke-opacity="0.57"/>
<line x1="154.5" y1="403.1" x2="154.5" y2="409.1" stroke-width="2" stroke-opacity="0.57"/>
<line x1="157.5" y1="403.1" x2="157.5" y2="409.1" stroke-width="2" stroke-opacity="0.57"/>
<line x1="152.2" y1="406.1" x2="159.8" y2="406.1" stroke-width="1.1" stroke-opacity="1"/>
<line x1="156.0" y1="402.3" x2="156.0" y2="409.9" stroke-width="1.1" stroke-opacity="1"/>
<line x1="155.0" y1="401.5" x2="155.0" y2="412.0" stroke-width="2" stroke-opacity="0.57"/>
<line x1="152.0" y1="401.5" x2="158.0" y2="401.5" stroke-width="2" stroke-opacity="0.57"/>
<line x1="152.0" y1="412.0" x2="158.0" y2="412.0" stroke-width="2" stroke-opacity="0.57"/>
<line x1="153.0" y1="406.8" x2="155.9" y2="406.8" stroke-width="2" stroke-opacity="0.57"/>
<line x1="153.0" y1="403.8" x2="153.0" y2="409.8" stroke-width="2" stroke-opacity="0.57"/>
<line x1="155.9" y1="403.8" x2="155.9" y2="409.8" stroke-width="2" stroke-opacity="0.57"/>
<line x1="150.7" y1="406.8" x2="158.3" y2="406.8" stroke-width="1.1" stroke-opacity="1"/>
<line x1="154.5" y1="403.0" x2="154.5" y2="410.6" stroke-width="1.1" stroke-opacity="1"/>
<line x1="153.0" y1="402.8" x2="153.0" y2="412.0" stroke-width="2" stroke-opacity="0.57"/>
<line x1="150.0" y1="402.8" x2="156.0" y2="402.8" stroke-width="2" stroke-opacity="0.57"/>
<line x1="150.0" y1="412.0" x2="156.0" y2="412.0" stroke-width="2" stroke-opacity="0.57"/>
<line x1="151.5" y1="407.4" x2="154.4" y2="407.4" stroke-width="2" stroke-opacity="0.57"/>
<line x1="151.5" y1="404.4" x2="151.5" y2="410.4" stroke-width="2" stroke-opacity="0.57"/>
<line x1="154.4" y1="404.4" x2="154.4" y2="410.4" stroke-width="2" stroke-opacity="0.57"/>
<line x1="149.1" y1="407.4" x2="156.7" y2="407.4" stroke-width="1.1" stroke-opacity="1"/>
<line x1="152.9" y1="403.6" x2="152.9" y2="411.2" stroke-width="1.1" stroke-opacity="1"/>
<line x1="152.0" y1="403.8" x2="152.0" y2="412.0" stroke-width="2" stroke-opacity="0.57"/>
<line x1="149.0" y1="403.8" x2="155.0" y2="403.8" stroke-width="2" stroke-opacity="0.57"/>
<line x1="149.0" y1="412.0" x2="155.0" y2="412.0" stroke-width="2" stroke-opacity="0.57"/>
<line x1="150.0" y1="407.9" x2="152.9" y2="407.9" stroke-width="2" stroke-opacity="0.57"/>
<line x1="150.0" y1="404.9" x2="150.0" y2="410.9" stroke-width="2" stroke-opacity="0.57"/>
<line x1="152.9" y1="404.9" x2="152.9" y2="410.9" stroke-width="2" stroke-opacity="0.57"/>
<line x1="147.6" y1="407.9" x2="155.2" y2="407.9" stroke-width="1.1" stroke-opacity="1"/>
<line x1="151.4" y1="404.1" x2="151.4" y2="411.7" stroke-width="1.1" stroke-opacity="1"/>
<line x1="150.0" y1="404.7" x2="150.0" y2="412.0" stroke-width="2" stroke-opacity="0.57"/>
<line x1="147.0" y1="404.7" x2="153.0" y2="404.7" stroke-width="2" stroke-opacity="0.57"/>
<line x1="147.0" y1="412.0" x2="153.0" y2="412.0" stroke-width="2" stroke-opacity="0.57"/>
<line x1="148.6" y1="408.3" x2="151.4" y2="408.3" stroke-width="2" stroke-opacity="0.57"/>
<line x1="148.6" y1="405.3" x2="148.6" y2="411.3" stroke-width="2" stroke-opacity="0.57"/>
<line x1="151.4" y1="405.3" x2="151.4" y2="411.3" stroke-width="2" stroke-opacity="0.57"/>
<line x1="146.2" y1="408.3" x2="153.8" y2="408.3" stroke-width="1.1" stroke-opacity="1"/>
<line x1="150.0" y1="404.5" x2="150.0" y2="412.1" stroke-width="1.1" stroke-opacity="1"/>
<line x1="149.0" y1="405.4" x2="149.0" y2="412.0" stroke-width="2" stroke-opacity="0.57"/>
<line x1="146.0" y1="405.4" x2="152.0" y2="405.4" stroke-width="2" stroke-opacity="0.57"/>
<line x1="146.0" y1="412.0" x2="152.0" y2="412.0" stroke-width="2" stroke-opacity="0.57"/>
<line x1="147.1" y1="408.7" x2="149.9" y2="408.7" stroke-width="2" stroke-opacity="0.57"/>
<line x1="147.1" y1="405.7" x2="147.1" y2="411.7" stroke-width="2" stroke-opacity="0.57"/>
<line x1="149.9" y1="405.7" x2="149.9" y2="411.7" stroke-width="2" stroke-opacity="0.57"/>
<line x1="144.7" y1="408.7" x2="152.3" y2="408.7" stroke-width="1.1" stroke-opacity="1"/>
<line x1="148.5" y1="404.9" x2="148.5" y2="412.5" stroke-width="1.1" stroke-opacity="1"/>
<line x1="147.0" y1="406.1" x2="147.0" y2="412.0" stroke-width="2" stroke-opacity="0.57"/>
<line x1="144.0" y1="406.1" x2="150.0" y2="406.1" stroke-width="2" stroke-opacity="0.57"/>
<line x1="144.0" y1="412.0" x2="150.0" y2="412.0" stroke-width="2" stroke-opacity="0.57"/>
<line x1="145.8" y1="409.1" x2="148.5" y2="409.1" stroke-width="2" stroke-opacity="0.57"/>
<line x1="145.8" y1="406.1" x2="145.8" y2="412.1" stroke-width="2" stroke-opacity="0.57"/>
<line x1="148.5" y1="406.1" x2="148.5" y2="412.1" stroke-width="2" stroke-opacity="0.57"/>
<line x1="143.4" y1="409.1" x2="151.0" y2="409.1" stroke-width="1.1" stroke-opacity="1"/>
<line x1="147.2" y1="405.3" x2="147.2" y2="412.9" stroke-width="1.1" stroke-opacity="1"/>
<line x1="146.0" y1="406.7" x2="146.0" y2="412.0" stroke-width="2" stroke-opacity="0.57"/>
<line x1="143.0" y1="406.7" x2="149.0" y2="406.7" stroke-width="2" stroke-opacity="0.57"/>
<line x1="143.0" y1="412.0" x2="149.0" y2="412.0" stroke-width="2" stroke-opacity="0.57"/>
<line x1="144.4" y1="409.3" x2="147.2" y2="409.3" stroke-width="2" stroke-opacity="0.57"/>
<line x1="144.4" y1="406.3" x2="144.4" y2="412.3" stroke-width="2" stroke-opacity="0.57"/>
<line x1="147.2" y1="406.3" x2="147.2" y2="412.3" stroke-width="2" stroke-opacity="0.57"/>
<line x1="142.0" y1="409.3" x2="149.6" y2="409.3" stroke-width="1.1" stroke-opacity="1"/>
<line x1="145.8" y1="405.5" x2="145.8" y2="413.1" stroke-width="1.1" stroke-opacity="1"/>
<line x1="145.0" y1="407.2" x2="145.0" y2="412.0" stroke-width="2" stroke-opacity="0.57"/>
<line x1="142.0" y1="407.2" x2="148.0" y2="407.2" stroke-width="2" stroke-opacity="0.57"/>
<line x1="142.0" y1="412.0" x2="148.0" y2="412.0" stroke-width="2" stroke-opacity="0.57"/>
<line x1="143.1" y1="409.6" x2="145.8" y2="409.6" stroke-width="2" stroke-opacity="0.57"/>
<line x1="143.1" y1="406.6" x2="143.1" y2="412.6" stroke-width="2" stroke-opacity="0.57"/>
<line x1="145.8" y1="406.6" x2="145.8" y2="412.6" stroke-width="2" stroke-opacity="0.57"/>
<line x1="140.7" y1="409.6" x2="148.3" y2="409.6" stroke-width="1.1" stroke-opacity="1"/>
<line x1="144.5" y1="405.8" x2="144.5" y2="413.4" stroke-width="1.1" stroke-opacity="1"/>
<line x1="143.0" y1="407.6" x2="143.0" y2="412.0" stroke-width="2" stroke-opacity="0.57"/>
<line x1="140.0" y1="407.6" x2="146.0" y2="407.6" stroke-width="2" stroke-opacity="0.57"/>
<line x1="140.0" y1="412.0" x2="146.0" y2="412.0" stroke-width="2" stroke-opacity="0.57"/>
<line x1="141.8" y1="409.8" x2="144.5" y2="409.8" stroke-width="2" stroke-opacity="0.57"/>
<line x1="141.8" y1="406.8" x2="141.8" y2="412.8" stroke-width="2" stroke-opacity="0.57"/>
<line x1="144.5" y1="406.8" x2="144.5" y2="412.8" stroke-width="2" stroke-opacity="0.57"/>
<line x1="139.4" y1="409.8" x2="147.0" y2="409.8" stroke-width="1.1" stroke-opacity="1"/>
<line x1="143.2" y1="406.0" x2="143.2" y2="413.6" stroke-width="1.1" stroke-opacity="1"/>
<line x1="142.0" y1="408.0" x2="142.0" y2="412.0" stroke-width="2" stroke-opacity="0.57"/>
<line x1="139.0" y1="408.0" x2="145.0" y2="408.0" stroke-width="2" stroke-opacity="0.57"/>
<line x1="139.0" y1="412.0" x2="145.0" y2="412.0" stroke-width="2" stroke-opacity="0.57"/>
<line x1="140.6" y1="410.0" x2="143.2" y2="410.0" stroke-width="2" stroke-opacity="0.57"/>
<line x1="140.6" y1="407.0" x2="140.6" y2="413.0" stroke-width="2" stroke-opacity="0.57"/>
<line x1="143.2" y1="407.0" x2="143.2" y2="413.0" stroke-width="2" stroke-opacity="0.57"/>
<line x1="138.1" y1="410.0" x2="145.7" y2="410.0" stroke-width="1.1" stroke-opacity="1"/>
<line x1="141.9" y1="406.2" x2="141.9" y2="413.8" stroke-width="1.1" stroke-opacity="1"/>
<line x1="141.0" y1="408.4" x2="141.0" y2="412.0" stroke-width="2" stroke-opacity="0.57"/>
<line x1="138.0" y1="408.4" x2="144.0" y2="408.4" stroke-width="2" stroke-opacity="0.57"/>
<line x1="138.0" y1="412.0" x2="144.0" y2="412.0" stroke-width="2" stroke-opacity="0.57"/>
<line x1="139.4" y1="410.2" x2="142.0" y2="410.2" stroke-width="2" stroke-opacity="0.57"/>
<line x1="139.4" y1="407.2" x2="139.4" y2="413.2" stroke-width="2" stroke-opacity="0.57"/>
<line x1="142.0" y1="407.2" x2="142.0" y2="413.2" stroke-width="2" stroke-opacity="0.57"/>
<line x1="136.9" y1="410.2" x2="144.5" y2="410.2" stroke-width="1.1" stroke-opacity="1"/>
<line x1="140.7" y1="406.4" x2="140.7" y2="414.0" stroke-width="1.1" stroke-opacity="1"/>
<line x1="140.0" y1="408.7" x2="140.0" y2="412.0" stroke-width="2" stroke-opacity="0.57"/>
<line x1="137.0" y1="408.7" x2="143.0" y2="408.7" stroke-width="2" stroke-opacity="0.57"/>
<line x1="137.0" y1="412.0" x2="143.0" y2="412.0" stroke-width="2" stroke-opacity="0.57"/>
<line x1="138.2" y1="410.3" x2="140.8" y2="410.3" stroke-width="2" stroke-opacity="0.57"/>
<line x1="138.2" y1="407.3" x2="138.2" y2="413.3" stroke-width="2" stroke-opacity="0.57"/>
<line x1="140.8" y1="407.3" x2="140.8" y2="413.3" stroke-width="2" stroke-opacity="0.57"/>
<line x1="135.7" y1="410.3" x2="143.3" y2="410.3" stroke-width="1.1" stroke-opacity="1"/>
<line x1="139.5" y1="406.5" x2="139.5" y2="414.1" stroke-width="1.1" stroke-opacity="1"/>
<line x1="138.0" y1="409.0" x2="138.0" y2="412.0" stroke-width="2" stroke-opacity="0.57"/>
<line x1="135.0" y1="409.0" x2="141.0" y2="409.0" stroke-width="2" stroke-opacity="0.57"/>
<line x1="135.0" y1="412.0" x2="141.0" y2="412.0" stroke-width="2" stroke-opacity="0.57"/>
<line x1="137.0" y1="410.5" x2="139.6" y2="410.5" stroke-width="2" stroke-opacity="0.57"/>
<line x1="137.0" y1="407.5" x2="137.0" y2="413.5" stroke-width="2" stroke-opacity="0.57"/>
<line x1="139.6" y1="407.5" x2="139.6" y2="413.5" stroke-width="2" stroke-opacity="0.57"/>
<line x1="134.5" y1="410.5" x2="142.1" y2="410.5" stroke-width="1.1" stroke-opacity="1"/>
<line x1="138.3" y1="406.7" x2="138.3" y2="414.3" stroke-width="1.1" stroke-opacity="1"/>
<line x1="137.0" y1="409.2" x2="137.0" y2="412.0" stroke-width="2" stroke-opacity="0.57"/>
<line x1="134.0" y1="409.2" x2="140.0" y2="409.2" stroke-width="2" stroke-opacity="0.57"/>
<line x1="134.0" y1="412.0" x2="140.0" y2="412.0" stroke-width="2" stroke-opacity="0.57"/>
<line x1="135.9" y1="410.6" x2="138.4" y2="410.6" stroke-width="2" stroke-opacity="0.57"/>
<line x1="135.9" y1="407.6" x2="135.9" y2="413.6" stroke-width="2" stroke-opacity="0.57"/>
<line x1="138.4" y1="407.6" x2="138.4" y2="413.6" stroke-width="2" stroke-opacity="0.57"/>
<line x1="133.3" y1="410.6" x2="140.9" y2="410.6" stroke-width="1.1" stroke-opacity="1"/>
<line x1="137.1" y1="406.8" x2="137.1" y2="414.4" stroke-width="1.1" stroke-opacity="1"/>
<line x1="136.0" y1="409.4" x2="136.0" y2="412.0" stroke-width="2" stroke-opacity="0.57"/>
<line x1="133.0" y1="409.4" x2="139.0" y2="409.4" stroke-width="2" stroke-opacity="0.57"/>
<line x1="133.0" y1="412.0" x2="139.0" y2="412.0" stroke-width="2" stroke-opacity="0.57"/>
<line x1="134.8" y1="410.7" x2="137.3" y2="410.7" stroke-width="2" stroke-opacity="0.57"/>
<line x1="134.8" y1="407.7" x2="134.8" y2="413.7" stroke-width="2" stroke-opacity="0.57"/>
<line x1="137.3" y1="407.7" x2="137.3" y2="413.7" stroke-width="2" stroke-opacity="0.57"/>
<line x1="132.2" y1="410.7" x2="139.8" y2="410.7" stroke-width="1.1" stroke-opacity="1"/>
<line x1="136.0" y1="406.9" x2="136.0" y2="414.5" stroke-width="1.1" stroke-opacity="1"/>
<line x1="135.0" y1="409.6" x2="135.0" y2="412.0" stroke-width="2" stroke-opacity="0.57"/>
<line x1="132.0" y1="409.6" x2="138.0" y2="409.6" stroke-width="2" stroke-opacity="0.57"/>
<line x1="132.0" y1="412.0" x2="138.0" y2="412.0" stroke-width="2" stroke-opacity="0.57"/>
<line x1="133.7" y1="410.8" x2="136.2" y2="410.8" stroke-width="2" stroke-opacity="0.57"/>
<line x1="133.7" y1="407.8" x2="133.7" y2="413.8" stroke-width="2" stroke-opacity="0.57"/>
<line x1="136.2" y1="407.8" x2="136.2" y2="413.8" stroke-width="2" stroke-opacity="0.57"/>
<line x1="131.1" y1="410.8" x2="138.7" y2="410.8" stroke-width="1.1" stroke-opacity="1"/>
<line x1="134.9" y1="407.0" x2="134.9" y2="414.6" stroke-width="1.1" stroke-opacity="1"/>
<line x1="134.0" y1="409.8" x2="134.0" y2="412.0" stroke-width="2" stroke-opacity="0.57"/>
<line x1="131.0" y1="409.8" x2="137.0" y2="409.8" stroke-width="2" stroke-opacity="0.57"/>
<line x1="131.0" y1="412.0" x2="137.0" y2="412.0" stroke-width="2" stroke-opacity="0.57"/>
<line x1="132.6" y1="410.9" x2="135.1" y2="410.9" stroke-width="2" stroke-opacity="0.57"/>
<line x1="132.6" y1="407.9" x2="132.6" y2="413.9" stroke-width="2" stroke-opacity="0.57"/>
<line x1="135.1" y1="407.9" x2="135.1" y2="413.9" stroke-width="2" stroke-opacity="0.57"/>
<line x1="130.0" y1="410.9" x2="137.6" y2="410.9" stroke-width="1.1" stroke-opacity="1"/>
<line x1="133.8" y1="407.1" x2="133.8" y2="414.7" stroke-width="1.1" stroke-opacity="1"/>
<line x1="133.0" y1="410.0" x2="133.0" y2="412.0" stroke-width="2" stroke-opacity="0.57"/>
<line x1="130.0" y1="410.0" x2="136.0" y2="410.0" stroke-width="2" stroke-opacity="0.57"/>
<line x1="130.0" y1="412.0" x2="136.0" y2="412.0" stroke-width="2" stroke-opacity="0.57"/>
<line x1="131.6" y1="411.0" x2="134.0" y2="411.0" stroke-width="2" stroke-opacity="0.57"/>
<line x1="131.6" y1="408.0" x2="131.6" y2="414.0" stroke-width="2" stroke-opacity="0.57"/>
<line x1="134.0" y1="408.0" x2="134.0" y2="414.0" stroke-width="2" stroke-opacity="0.57"/>
<line x1="129.0" y1="411.0" x2="136.6" y2="411.0" stroke-width="1.1" stroke-opacity="1"/>
<line x1="132.8" y1="407.2" x2="132.8" y2="414.8" stroke-width="1.1" stroke-opacity="1"/>
<line x1="132.0" y1="410.1" x2="132.0" y2="412.0" stroke-width="2" stroke-opacity="0.57"/>
<line x1="129.0" y1="410.1" x2="135.0" y2="410.1" stroke-width="2" stroke-opacity="0.57"/>
<line x1="129.0" y1="412.0" x2="135.0" y2="412.0" stroke-width="2" stroke-opacity="0.57"/>
<line x1="130.5" y1="411.0" x2="132.9" y2="411.0" stroke-width="2" stroke-opacity="0.57"/>
<line x1="130.5" y1="408.0" x2="130.5" y2="414.0" stroke-width="2" stroke-opacity="0.57"/>
<line x1="132.9" y1="408.0" x2="132.9" y2="414.0" stroke-width="2" stroke-opacity="0.57"/>
<line x1="127.9" y1="411.0" x2="135.5" y2="411.0" stroke-width="1.1" stroke-opacity="1"/>
<line x1="131.7" y1="407.2" x2="131.7" y2="414.8" stroke-width="1.1" stroke-opacity="1"/>
<line x1="131.0" y1="410.2" x2="131.0" y2="412.0" stroke-width="2" stroke-opacity="0.57"/>
<line x1="128.0" y1="410.2" x2="134.0" y2="410.2" stroke-width="2" stroke-opacity="0.57"/>
<line x1="128.0" y1="412.0" x2="134.0" y2="412.0" stroke-width="2" stroke-opacity="0.57"/>
<line x1="129.5" y1="411.1" x2="131.9" y2="411.1" stroke-width="2" stroke-opacity="0.57"/>
<line x1="129.5" y1="408.1" x2="129.5" y2="414.1" stroke-width="2" stroke-opacity="0.57"/>
<line x1="131.9" y1="408.1" x2="131.9" y2="414.1" stroke-width="2" stroke-opacity="0.57"/>
<line x1="126.9" y1="411.1" x2="134.5" y2="411.1" stroke-width="1.1" stroke-opacity="1"/>
<line x1="130.7" y1="407.3" x2="130.7" y2="414.9" stroke-width="1.1" stroke-opacity="1"/>
<line x1="130.0" y1="410.4" x2="130.0" y2="412.0" stroke-width="2" stroke-opacity="0.57"/>
<line x1="127.0" y1="410.4" x2="133.0" y2="410.4" stroke-width="2" stroke-opacity="0.57"/>
<line x1="127.0" y1="412.0" x2="133.0" y2="412.0" stroke-width="2" stroke-opacity="0.57"/>
<line x1="128.6" y1="411.2" x2="130.9" y2="411.2" stroke-width="2" stroke-opacity="0.57"/>
<line x1="128.6" y1="408.2" x2="128.6" y2="414.2" stroke-width="2" stroke-opacity="0.57"/>
<line x1="130.9" y1="408.2" x2="130.9" y2="414.2" stroke-width="2" stroke-opacity="0.57"/>
<line x1="125.9" y1="411.2" x2="133.5" y2="411.2" stroke-width="1.1" stroke-opacity="1"/>
<line x1="129.7" y1="407.4" x2="129.7" y2="415.0" stroke-width="1.1" stroke-opacity="1"/>
<line x1="129.0" y1="410.5" x2="129.0" y2="412.0" stroke-width="2" stroke-opacity="0.57"/>
<line x1="126.0" y1="410.5" x2="132.0" y2="410.5" stroke-width="2" stroke-opacity="0.57"/>
<line x1="126.0" y1="412.0" x2="132.0" y2="412.0" stroke-width="2" stroke-opacity="0.57"/>
<line x1="127.6" y1="411.3" x2="129.9" y2="411.3" stroke-width="2" stroke-opacity="0.57"/>
<line x1="127.6" y1="408.3" x2="127.6" y2="414.3" stroke-width="2" stroke-opacity="0.57"/>
<line x1="129.9" y1="408.3" x2="129.9" y2="414.3" stroke-width="2" stroke-opacity="0.57"/>
<line x1="125.0" y1="411.3" x2="132.6" y2="411.3" stroke-width="1.1" stroke-opacity="1"/>
<line x1="128.8" y1="407.5" x2="128.8" y2="415.1" stroke-width="1.1" stroke-opacity="1"/>
<line x1="128.0" y1="410.6" x2="128.0" y2="412.0" stroke-width="2" stroke-opacity="0.57"/>
<line x1="125.0" y1="410.6" x2="131.0" y2="410.6" stroke-width="2" stroke-opacity="0.57"/>
<line x1="125.0" y1="412.0" x2="131.0" y2="412.0" stroke-width="2" stroke-opacity="0.57"/>
<line x1="126.6" y1="411.3" x2="129.0" y2="411.3" stroke-width="2" stroke-opacity="0.57"/>
<line x1="126.6" y1="408.3" x2="126.6" y2="414.3" stroke-width="2" stroke-opacity="0.57"/>
<line x1="129.0" y1="408.3" x2="129.0" y2="414.3" stroke-width="2" stroke-opacity="0.57"/>
<line x1="124.0" y1="411.3" x2="131.6" y2="411.3" stroke-width="1.1" stroke-opacity="1"/>
<line x1="127.8" y1="407.5" x2="127.8" y2="415.1" stroke-width="1.1" stroke-opacity="1"/>
<line x1="127.0" y1="410.7" x2="127.0" y2="412.0" stroke-width="2" stroke-opacity="0.57"/>
<line x1="124.0" y1="410.7" x2="130.0" y2="410.7" stroke-width="2" stroke-opacity="0.57"/>
<line x1="124.0" y1="412.0" x2="130.0" y2="412.0" stroke-width="2" stroke-opacity="0.57"/>
<line x1="125.7" y1="411.4" x2="128.0" y2="411.4" stroke-width="2" stroke-opacity="0.57"/>
<line x1="125.7" y1="408.4" x2="125.7" y2="414.4" stroke-width="2" stroke-opacity="0.57"/>
<line x1="128.0" y1="408.4" x2="128.0" y2="414.4" stroke-width="2" stroke-opacity="0.57"/>
<line x1="123.1" y1="411.4" x2="130.7" y2="411.4" stroke-width="1.1" stroke-opacity="1"/>
<line x1="126.9" y1="407.6" x2="126.9" y2="415.2" stroke-width="1.1" stroke-opacity="1"/>
<line x1="126.0" y1="410.8" x2="126.0" y2="412.0" stroke-width="2" stroke-opacity="0.57"/>
<line x1="123.0" y1="410.8" x2="129.0" y2="410.8" stroke-width="2" stroke-opacity="0.57"/>
<line x1="123.0" y1="412.0" x2="129.0" y2="412.0" stroke-width="2" stroke-opacity="0.57"/>
<line x1="124.8" y1="411.4" x2="127.1" y2="411.4" stroke-width="2" stroke-opacity="0.57"/>
<line x1="124.8" y1="408.4" x2="124.8" y2="414.4" stroke-width="2" stroke-opacity="0.57"/>
<line x1="127.1" y1="408.4" x2="127.1" y2="414.4" stroke-width="2" stroke-opacity="0.57"/>
<line x1="122.2" y1="411.4" x2="129.8" y2="411.4" stroke-width="1.1" stroke-opacity="1"/>
<line x1="126.0" y1="407.6" x2="126.0" y2="415.2" stroke-width="1.1" stroke-opacity="1"/>
<line x1="125.0" y1="410.9" x2="125.0" y2="412.0" stroke-width="2" stroke-opacity="0.57"/>
<line x1="122.0" y1="410.9" x2="128.0" y2="410.9" stroke-width="2" stroke-opacity="0.57"/>
<line x1="122.0" y1="412.0" x2="128.0" y2="412.0" stroke-width="2" stroke-opacity="0.57"/>
<line x1="123.9" y1="411.5" x2="126.2" y2="411.5" stroke-width="2" stroke-opacity="0.57"/>
<line x1="123.9" y1="408.5" x2="123.9" y2="414.5" stroke-width="2" stroke-opacity="0.57"/>
<line x1="126.2" y1="408.5" x2="126.2" y2="414.5" stroke-width="2" stroke-opacity="0.57"/>
<line x1="121.3" y1="411.5" x2="128.9" y2="411.5" stroke-width="1.1" stroke-opacity="1"/>
<line x1="125.1" y1="407.7" x2="125.1" y2="415.3" stroke-width="1.1" stroke-opacity="1"/>
<line x1="124.0" y1="410.9" x2="124.0" y2="412.0" stroke-width="2" stroke-opacity="0.57"/>
<line x1="121.0" y1="410.9" x2="127.0" y2="410.9" stroke-width="2" stroke-opacity="0.57"/>
<line x1="121.0" y1="412.0" x2="127.0" y2="412.0" stroke-width="2" stroke-opacity="0.57"/>
<line x1="123.0" y1="411.5" x2="125.3" y2="411.5" stroke-width="2" stroke-opacity="0.57"/>
<line x1="123.0" y1="408.5" x2="123.0" y2="414.5" stroke-width="2" stroke-opacity="0.57"/>
<line x1="125.3" y1="408.5" x2="125.3" y2="414.5" stroke-width="2" stroke-opacity="0.57"/>
<line x1="120.4" y1="411.5" x2="128.0" y2="411.5" stroke-width="1.1" stroke-opacity="1"/>
<line x1="124.2" y1="407.7" x2="124.2" y2="415.3" stroke-width="1.1" stroke-opacity="1"/>
<line x1="123.0" y1="411.0" x2="123.0" y2="412.0" stroke-width="2" stroke-opacity="0.57"/>
<line x1="120.0" y1="411.0" x2="126.0" y2="411.0" stroke-width="2" stroke-opacity="0.57"/>
<line x1="120.0" y1="412.0" x2="126.0" y2="412.0" stroke-width="2" stroke-opacity="0.57"/>
<line x1="122.2" y1="411.5" x2="124.5" y2="411.5" stroke-width="2" stroke-opacity="0.57"/>
<line x1="122.2" y1="408.5" x2="122.2" y2="414.5" stroke-width="2" stroke-opacity="0.57"/>
<line x1="124.5" y1="408.5" x2="124.5" y2="414.5" stroke-width="2" stroke-opacity="0.57"/>
<line x1="119.5" y1="411.5" x2="127.1" y2="411.5" stroke-width="1.1" stroke-opacity="1"/>
<line x1="123.3" y1="407.7" x2="123.3" y2="415.3" stroke-width="1.1" stroke-opacity="1"/>
<line x1="123.0" y1="411.1" x2="123.0" y2="412.0" stroke-width="2" stroke-opacity="0.57"/>
<line x1="120.0" y1="411.1" x2="126.0" y2="411.1" stroke-width="2" stroke-opacity="0.57"/>
<line x1="120.0" y1="412.0" x2="126.0" y2="412.0" stroke-width="2" stroke-opacity="0.57"/>
<line x1="121.3" y1="411.5" x2="123.6" y2="411.5" stroke-width="2" stroke-opacity="0.57"/>
<line x1="121.3" y1="408.5" x2="121.3" y2="414.5" stroke-width="2" stroke-opacity="0.57"/>
<line x1="123.6" y1="408.5" x2="123.6" y2="414.5" stroke-width="2" stroke-opacity="0.57"/>
<line x1="118.7" y1="411.5" x2="126.3" y2="411.5" stroke-width="1.1" stroke-opacity="1"/>
<line x1="122.5" y1="407.7" x2="122.5" y2="415.3" stroke-width="1.1" stroke-opacity="1"/>
<line x1="122.0" y1="411.1" x2="122.0" y2="412.0" stroke-width="2" stroke-opacity="0.57"/>
<line x1="119.0" y1="411.1" x2="125.0" y2="411.1" stroke-width="2" stroke-opacity="0.57"/>
<line x1="119.0" y1="412.0" x2="125.0" y2="412.0" stroke-width="2" stroke-opacity="0.57"/>
<line x1="120.5" y1="411.6" x2="122.8" y2="411.6" stroke-width="2" stroke-opacity="0.57"/>
<line x1="120.5" y1="408.6" x2="120.5" y2="414.6" stroke-width="2" stroke-opacity="0.57"/>
<line x1="122.8" y1="408.6" x2="122.8" y2="414.6" stroke-width="2" stroke-opacity="0.57"/>
<line x1="117.8" y1="411.6" x2="125.4" y2="411.6" stroke-width="1.1" stroke-opacity="1"/>
<line x1="121.6" y1="407.8" x2="121.6" y2="415.4" stroke-width="1.1" stroke-opacity="1"/>
<line x1="121.0" y1="411.2" x2="121.0" y2="412.0" stroke-width="2" stroke-opacity="0.57"/>
<line x1="118.0" y1="411.2" x2="124.0" y2="411.2" stroke-width="2" stroke-opacity="0.57"/>
<line x1="118.0" y1="412.0" x2="124.0" y2="412.0" stroke-width="2" stroke-opacity="0.57"/>
<line x1="119.7" y1="411.6" x2="121.9" y2="411.6" stroke-width="2" stroke-opacity="0.57"/>
<line x1="119.7" y1="408.6" x2="119.7" y2="414.6" stroke-width="2" stroke-opacity="0.57"/>
<line x1="121.9" y1="408.6" x2="121.9" y2="414.6" stroke-width="2" stroke-opacity="0.57"/>
<line x1="117.0" y1="411.6" x2="124.6" y2="411.6" stroke-width="1.1" stroke-opacity="1"/>
<line x1="120.8" y1="407.8" x2="120.8" y2="415.4" stroke-width="1.1" stroke-opacity="1"/>
<line x1="120.0" y1="411.2" x2="120.0" y2="412.0" stroke-width="2" stroke-opacity="0.57"/>
<line x1="117.0" y1="411.2" x2="123.0" y2="411.2" stroke-width="2" stroke-opacity="0.57"/>
<line x1="117.0" y1="412.0" x2="123.0" y2="412.0" stroke-width="2" stroke-opacity="0.57"/>
<line x1="118.9" y1="411.6" x2="121.1" y2="411.6" stroke-width="2" stroke-opacity="0.57"/>
<line x1="118.9" y1="408.6" x2="118.9" y2="414.6" stroke-width="2" stroke-opacity="0.57"/>
<line x1="121.1" y1="408.6" x2="121.1" y2="414.6" stroke-width="2" stroke-opacity="0.57"/>
<line x1="116.2" y1="411.6" x2="123.8" y2="411.6" stroke-width="1.1" stroke-opacity="1"/>
<line x1="120.0" y1="407.8" x2="120.0" y2="415.4" stroke-width="1.1" stroke-opacity="1"/>
<line x1="119.0" y1="411.2" x2="119.0" y2="412.0" stroke-width="2" stroke-opacity="0.57"/>
<line x1="116.0" y1="411.2" x2="122.0" y2="411.2" stroke-width="2" stroke-opacity="0.57"/>
<line x1="116.0" y1="412.0" x2="122.0" y2="412.0" stroke-width="2" stroke-opacity="0.57"/>
<line x1="118.1" y1="411.6" x2="120.4" y2="411.6" stroke-width="2" stroke-opacity="0.57"/>
<line x1="118.1" y1="408.6" x2="118.1" y2="414.6" stroke-width="2" stroke-opacity="0.57"/>
<line x1="120.4" y1="408.6" x2="120.4" y2="414.6" stroke-width="2" stroke-opacity="0.57"/>
<line x1="115.4" y1="411.6" x2="123.0" y2="411.6" stroke-width="1.1" stroke-opacity="1"/>
<line x1="119.2" y1="407.8" x2="119.2" y2="415.4" stroke-width="1.1" stroke-opacity="1"/>
<line x1="119.0" y1="411.2" x2="119.0" y2="412.0" stroke-width="2" stroke-opacity="0.57"/>
<line x1="116.0" y1="411.2" x2="122.0" y2="411.2" stroke-width="2" stroke-opacity="0.57"/>
<line x1="116.0" y1="412.0" x2="122.0" y2="412.0" stroke-width="2" stroke-opacity="0.57"/>
<line x1="117.4" y1="411.6" x2="119.6" y2="411.6" stroke-width="2" stroke-opacity="0.57"/>
<line x1="117.4" y1="408.6" x2="117.4" y2="414.6" stroke-width="2" stroke-opacity="0.57"/>
<line x1="119.6" y1="408.6" x2="119.6" y2="414.6" stroke-width="2" stroke-opacity="0.57"/>
<line x1="114.7" y1="411.6" x2="122.3" y2="411.6" stroke-width="1.1" stroke-opacity="1"/>
<line x1="118.5" y1="407.8" x2="118.5" y2="415.4" stroke-width="1.1" stroke-opacity="1"/>
<line x1="118.0" y1="411.3" x2="118.0" y2="412.0" stroke-width="2" stroke-opacity="0.57"/>
<line x1="115.0" y1="411.3" x2="121.0" y2="411.3" stroke-width="2" stroke-opacity="0.57"/>
<line x1="115.0" y1="412.0" x2="121.0" y2="412.0" stroke-width="2" stroke-opacity="0.57"/>
<line x1="116.6" y1="411.6" x2="118.8" y2="411.6" stroke-width="2" stroke-opacity="0.57"/>
<line x1="116.6" y1="408.6" x2="116.6" y2="414.6" stroke-width="2" stroke-opacity="0.57"/>
<line x1="118.8" y1="408.6" x2="118.8" y2="414.6" stroke-width="2" stroke-opacity="0.57"/>
<line x1="113.9" y1="411.6" x2="121.5" y2="411.6" stroke-width="1.1" stroke-opacity="1"/>
<line x1="117.7" y1="407.8" x2="117.7" y2="415.4" stroke-width="1.1" stroke-opacity="1"/>
<line x1="117.0" y1="411.3" x2="117.0" y2="412.0" stroke-width="2" stroke-opacity="0.57"/>
<line x1="114.0" y1="411.3" x2="120.0" y2="411.3" stroke-width="2" stroke-opacity="0.57"/>
<line x1="114.0" y1="412.0" x2="120.0" y2="412.0" stroke-width="2" stroke-opacity="0.57"/>
<line x1="115.9" y1="411.6" x2="118.1" y2="411.6" stroke-width="2" stroke-opacity="0.57"/>
<line x1="115.9" y1="408.6" x2="115.9" y2="414.6" stroke-width="2" stroke-opacity="0.57"/>
<line x1="118.1" y1="408.6" x2="118.1" y2="414.6" stroke-width="2" stroke-opacity="0.57"/>
<line x1="113.2" y1="411.6" x2="120.8" y2="411.6" stroke-width="1.1" stroke-opacity="1"/>
<line x1="117.0" y1="407.8" x2="117.0" y2="415.4" stroke-width="1.1" stroke-opacity="1"/>
<line x1="116.0" y1="411.3" x2="116.0" y2="412.0" stroke-width="2" stroke-opacity="0.57"/>
<line x1="113.0" y1="411.3" x2="119.0" y2="411.3" stroke-width="2" stroke-opacity="0.57"/>
<line x1="113.0" y1="412.0" x2="119.0" y2="412.0" stroke-width="2" stroke-opacity="0.57"/>
<line x1="115.2" y1="411.6" x2="117.3" y2="411.6" stroke-width="2" stroke-opacity="0.57"/>
<line x1="115.2" y1="408.6" x2="115.2" y2="414.6" stroke-width="2" stroke-opacity="0.57"/>
<line x1="117.3" y1="408.6" x2="117.3" y2="414.6" stroke-width="2" stroke-opacity="0.57"/>
<line x1="112.4" y1="411.6" x2="120.0" y2="411.6" stroke-width="1.1" stroke-opacity="1"/>
<line x1="116.2" y1="407.8" x2="116.2" y2="415.4" stroke-width="1.1" stroke-opacity="1"/>
<line x1="116.0" y1="411.3" x2="116.0" y2="412.0" stroke-width="2" stroke-opacity="0.57"/>
<line x1="113.0" y1="411.3" x2="119.0" y2="411.3" stroke-width="2" stroke-opacity="0.57"/>
<line x1="113.0" y1="412.0" x2="119.0" y2="412.0" stroke-width="2" stroke-opacity="0.57"/>
<line x1="114.4" y1="411.7" x2="116.6" y2="411.7" stroke-width="2" stroke-opacity="0.57"/>
<line x1="114.4" y1="408.7" x2="114.4" y2="414.7" stroke-width="2" stroke-opacity="0.57"/>
<line x1="116.6" y1="408.7" x2="116.6" y2="414.7" stroke-width="2" stroke-opacity="0.57"/>
<line x1="111.7" y1="411.7" x2="119.3" y2="411.7" stroke-width="1.1" stroke-opacity="1"/>
<line x1="115.5" y1="407.9" x2="115.5" y2="415.5" stroke-width="1.1" stroke-opacity="1"/>
<line x1="115.0" y1="411.3" x2="115.0" y2="412.0" stroke-width="2" stroke-opacity="0.57"/>
<line x1="112.0" y1="411.3" x2="118.0" y2="411.3" stroke-width="2" stroke-opacity="0.57"/>
<line x1="112.0" y1="412.0" x2="118.0" y2="412.0" stroke-width="2" stroke-opacity="0.57"/>
<line x1="113.7" y1="411.7" x2="115.9" y2="411.7" stroke-width="2" stroke-opacity="0.57"/>
<line x1="113.7" y1="408.7" x2="113.7" y2="414.7" stroke-width="2" stroke-opacity="0.57"/>
<line x1="115.9" y1="408.7" x2="115.9" y2="414.7" stroke-width="2" stroke-opacity="0.57"/>
<line x1="111.0" y1="411.7" x2="118.6" y2="411.7" stroke-width="1.1" stroke-opacity="1"/>
<line x1="114.8" y1="407.9" x2="114.8" y2="415.5" stroke-width="1.1" stroke-opacity="1"/>
<line x1="114.0" y1="411.4" x2="114.0" y2="412.0" stroke-width="2" stroke-opacity="0.57"/>
<line x1="111.0" y1="411.4" x2="117.0" y2="411.4" stroke-width="2" stroke-opacity="0.57"/>
<line x1="111.0" y1="412.0" x2="117.0" y2="412.0" stroke-width="2" stroke-opacity="0.57"/>
<line x1="113.0" y1="411.7" x2="115.2" y2="411.7" stroke-width="2" stroke-opacity="0.57"/>
<line x1="113.0" y1="408.7" x2="113.0" y2="414.7" stroke-width="2" stroke-opacity="0.57"/>
<line x1="115.2" y1="408.7" x2="115.2" y2="414.7" stroke-width="2" stroke-opacity="0.57"/>
<line x1="110.3" y1="411.7" x2="117.9" y2="411.7" stroke-width="1.1" stroke-opacity="1"/>
<line x1="114.1" y1="407.9" x2="114.1" y2="415.5" stroke-width="1.1" stroke-opacity="1"/>
<line x1="114.0" y1="411.4" x2="114.0" y2="412.0" stroke-width="2" stroke-opacity="0.57"/>
<line x1="111.0" y1="411.4" x2="117.0" y2="411.4" stroke-width="2" stroke-opacity="0.57"/>
<line x1="111.0" y1="412.0" x2="117.0" y2="412.0" stroke-width="2" stroke-opacity="0.57"/>
<line x1="112.4" y1="411.7" x2="114.5" y2="411.7" stroke-width="2" stroke-opacity="0.57"/>
<line x1="112.4" y1="408.7" x2="112.4" y2="414.7" stroke-width="2" stroke-opacity="0.57"/>
<line x1="114.5" y1="408.7" x2="114.5" y2="414.7" stroke-width="2" stroke-opacity="0.57"/>
<line x1="109.6" y1="411.7" x2="117.2" y2="411.7" stroke-width="1.1" stroke-opacity="1"/>
<line x1="113.4" y1="407.9" x2="113.4" y2="415.5" stroke-width="1.1" stroke-opacity="1"/>
<line x1="113.0" y1="411.4" x2="113.0" y2="412.0" stroke-width="2" stroke-opacity="0.57"/>
<line x1="110.0" y1="411.4" x2="116.0" y2="411.4" stroke-width="2" stroke-opacity="0.57"/>
<line x1="110.0" y1="412.0" x2="116.0" y2="412.0" stroke-width="2" stroke-opacity="0.57"/>
<line x1="111.7" y1="411.7" x2="113.8" y2="411.7" stroke-width="2" stroke-opacity="0.57"/>
<line x1="111.7" y1="408.7" x2="111.7" y2="414.7" stroke-width="2" stroke-opacity="0.57"/>
<line x1="113.8" y1="408.7" x2="113.8" y2="414.7" stroke-width="2" stroke-opacity="0.57"/>
<line x1="109.0" y1="411.7" x2="116.6" y2="411.7" stroke-width="1.1" stroke-opacity="1"/>
<line x1="112.8" y1="407.9" x2="112.8" y2="415.5" stroke-width="1.1" stroke-opacity="1"/>
<line x1="112.0" y1="411.4" x2="112.0" y2="412.0" stroke-width="2" stroke-opacity="0.57"/>
<line x1="109.0" y1="411.4" x2="115.0" y2="411.4" stroke-width="2" stroke-opacity="0.57"/>
<line x1="109.0" y1="412.0" x2="115.0" y2="412.0" stroke-width="2" stroke-opacity="0.57"/>
<line x1="111.0" y1="411.7" x2="113.2" y2="411.7" stroke-width="2" stroke-opacity="0.57"/>
<line x1="111.0" y1="408.7" x2="111.0" y2="414.7" stroke-width="2" stroke-opacity="0.57"/>
<line x1="113.2" y1="408.7" x2="113.2" y2="414.7" stroke-width="2" stroke-opacity="0.57"/>
<line x1="108.3" y1="411.7" x2="115.9" y2="411.7" stroke-width="1.1" stroke-opacity="1"/>
<line x1="112.1" y1="407.9" x2="112.1" y2="415.5" stroke-width="1.1" stroke-opacity="1"/>
<line x1="112.0" y1="411.4" x2="112.0" y2="412.0" stroke-width="2" stroke-opacity="0.57"/>
<line x1="109.0" y1="411.4" x2="115.0" y2="411.4" stroke-width="2" stroke-opacity="0.57"/>
<line x1="109.0" y1="412.0" x2="115.0" y2="412.0" stroke-width="2" stroke-opacity="0.57"/>
<line x1="110.4" y1="411.7" x2="112.5" y2="411.7" stroke-width="2" stroke-opacity="0.57"/>
<line x1="110.4" y1="408.7" x2="110.4" y2="414.7" stroke-width="2" stroke-opacity="0.57"/>
<line x1="112.5" y1="408.7" x2="112.5" y2="414.7" stroke-width="2" stroke-opacity="0.57"/>
<line x1="107.7" y1="411.7" x2="115.3" y2="411.7" stroke-width="1.1" stroke-opacity="1"/>
<line x1="111.5" y1="407.9" x2="111.5" y2="415.5" stroke-width="1.1" stroke-opacity="1"/>
<line x1="111.0" y1="411.4" x2="111.0" y2="412.0" stroke-width="2" stroke-opacity="0.57"/>
<line x1="108.0" y1="411.4" x2="114.0" y2="411.4" stroke-width="2" stroke-opacity="0.57"/>
<line x1="108.0" y1="412.0" x2="114.0" y2="412.0" stroke-width="2" stroke-opacity="0.57"/>
<line x1="109.8" y1="411.7" x2="111.9" y2="411.7" stroke-width="2" stroke-opacity="0.57"/>
<line x1="109.8" y1="408.7" x2="109.8" y2="414.7" stroke-width="2" stroke-opacity="0.57"/>
<line x1="111.9" y1="408.7" x2="111.9" y2="414.7" stroke-width="2" stroke-opacity="0.57"/>
<line x1="107.0" y1="411.7" x2="114.6" y2="411.7" stroke-width="1.1" stroke-opacity="1"/>
<line x1="110.8" y1="407.9" x2="110.8" y2="415.5" stroke-width="1.1" stroke-opacity="1"/>
<line x1="110.0" y1="411.4" x2="110.0" y2="412.0" stroke-width="2" stroke-opacity="0.57"/>
<line x1="107.0" y1="411.4" x2="113.0" y2="411.4" stroke-width="2" stroke-opacity="0.57"/>
<line x1="107.0" y1="412.0" x2="113.0" y2="412.0" stroke-width="2" stroke-opacity="0.57"/>
<line x1="109.1" y1="411.7" x2="111.2" y2="411.7" stroke-width="2" stroke-opacity="0.57"/>
<line x1="109.1" y1="408.7" x2="109.1" y2="414.7" stroke-width="2" stroke-opacity="0.57"/>
<line x1="111.2" y1="408.7" x2="111.2" y2="414.7" stroke-width="2" stroke-opacity="0.57"/>
<line x1="106.4" y1="411.7" x2="114.0" y2="411.7" stroke-width="1.1" stroke-opacity="1"/>
<line x1="110.2" y1="407.9" x2="110.2" y2="415.5" stroke-width="1.1" stroke-opacity="1"/>
<line x1="110.0" y1="411.5" x2="110.0" y2="412.0" stroke-width="2" stroke-opacity="0.57"/>
<line x1="107.0" y1="411.5" x2="113.0" y2="411.5" stroke-width="2" stroke-opacity="0.57"/>
<line x1="107.0" y1="412.0" x2="113.0" y2="412.0" stroke-width="2" stroke-opacity="0.57"/>
<line x1="108.5" y1="411.7" x2="110.6" y2="411.7" stroke-width="2" stroke-opacity="0.57"/>
<line x1="108.5" y1="408.7" x2="108.5" y2="414.7" stroke-width="2" stroke-opacity="0.57"/>
<line x1="110.6" y1="408.7" x2="110.6" y2="414.7" stroke-width="2" stroke-opacity="0.57"/>
<line x1="105.8" y1="411.7" x2="113.4" y2="411.7" stroke-width="1.1" stroke-opacity="1"/>
<line x1="109.6" y1="407.9" x2="109.6" y2="415.5" stroke-width="1.1" stroke-opacity="1"/>
<line x1="109.0" y1="411.5" x2="109.0" y2="412.0" stroke-width="2" stroke-opacity="0.57"/>
<line x1="106.0" y1="411.5" x2="112.0" y2="411.5" stroke-width="2" stroke-opacity="0.57"/>
<line x1="106.0" y1="412.0" x2="112.0" y2="412.0" stroke-width="2" stroke-opacity="0.57"/>
<line x1="107.9" y1="411.7" x2="110.0" y2="411.7" stroke-width="2" stroke-opacity="0.57"/>
<line x1="107.9" y1="408.7" x2="107.9" y2="414.7" stroke-width="2" stroke-opacity="0.57"/>
<line x1="110.0" y1="408.7" x2="110.0" y2="414.7" stroke-width="2" stroke-opacity="0.57"/>
<line x1="105.2" y1="411.7" x2="112.8" y2="411.7" stroke-width="1.1" stroke-opacity="1"/>
<line x1="109.0" y1="407.9" x2="109.0" y2="415.5" stroke-width="1.1" stroke-opacity="1"/>
<line x1="109.0" y1="411.5" x2="109.0" y2="412.0" stroke-width="2" stroke-opacity="0.57"/>
<line x1="106.0" y1="411.5" x2="112.0" y2="411.5" stroke-width="2" stroke-opacity="0.57"/>
<line x1="106.0" y1="412.0" x2="112.0" y2="412.0" stroke-width="2" stroke-opacity="0.57"/>
<line x1="107.3" y1="411.7" x2="109.4" y2="411.7" stroke-width="2" stroke-opacity="0.57"/>
<line x1="107.3" y1="408.7" x2="107.3" y2="414.7" stroke-width="2" stroke-opacity="0.57"/>
<line x1="109.4" y1="408.7" x2="109.4" y2="414.7" stroke-width="2" stroke-opacity="0.57"/>
<line x1="104.6" y1="411.7" x2="112.2" y2="411.7" stroke-width="1.1" stroke-opacity="1"/>
<line x1="108.4" y1="407.9" x2="108.4" y2="415.5" stroke-width="1.1" stroke-opacity="1"/>
<line x1="108.0" y1="411.5" x2="108.0" y2="412.0" stroke-width="2" stroke-opacity="0.57"/>
<line x1="105.0" y1="411.5" x2="111.0" y2="411.5" stroke-width="2" stroke-opacity="0.57"/>
<line x1="105.0" y1="412.0" x2="111.0" y2="412.0" stroke-width="2" stroke-opacity="0.57"/>
<line x1="106.8" y1="411.7" x2="108.8" y2="411.7" stroke-width="2" stroke-opacity="0.57"/>
<line x1="106.8" y1="408.7" x2="106.8" y2="414.7" stroke-width="2" stroke-opacity="0.57"/>
<line x1="108.8" y1="408.7" x2="108.8" y2="414.7" stroke-width="2" stroke-opacity="0.57"/>
<line x1="104.0" y1="411.7" x2="111.6" y2="411.7" stroke-width="1.1" stroke-opacity="1"/>
<line x1="107.8" y1="407.9" x2="107.8" y2="415.5" stroke-width="1.1" stroke-opacity="1"/>
<line x1="107.0" y1="411.5" x2="107.0" y2="412.0" stroke-width="2" stroke-opacity="0.57"/>
<line x1="104.0" y1="411.5" x2="110.0" y2="411.5" stroke-width="2" stroke-opacity="0.57"/>
<line x1="104.0" y1="412.0" x2="110.0" y2="412.0" stroke-width="2" stroke-opacity="0.57"/>
<line x1="106.2" y1="411.7" x2="108.2" y2="411.7" stroke-width="2" stroke-opacity="0.57"/>
<line x1="106.2" y1="408.7" x2="106.2" y2="414.7" stroke-width="2" stroke-opacity="0.57"/>
<line x1="108.2" y1="408.7" x2="108.2" y2="414.7" stroke-width="2" stroke-opacity="0.57"/>
<line x1="103.4" y1="411.7" x2="111.0" y2="411.7" stroke-width="1.1" stroke-opacity="1"/>
<line x1="107.2" y1="407.9" x2="107.2" y2="415.5" stroke-width="1.1" stroke-opacity="1"/>
<line x1="107.0" y1="411.5" x2="107.0" y2="412.0" stroke-width="2" stroke-opacity="0.57"/>
<line x1="104.0" y1="411.5" x2="110.0" y2="411.5" stroke-width="2" stroke-opacity="0.57"/>
<line x1="104.0" y1="412.0" x2="110.0" y2="412.0" stroke-width="2" stroke-opacity="0.57"/>
<line x1="105.6" y1="411.7" x2="107.7" y2="411.7" stroke-width="2" stroke-opacity="0.57"/>
<line x1="105.6" y1="408.7" x2="105.6" y2="414.7" stroke-width="2" stroke-opacity="0.57"/>
<line x1="107.7" y1="408.7" x2="107.7" y2="414.7" stroke-width="2" stroke-opacity="0.57"/>
<line x1="102.8" y1="411.7" x2="110.4" y2="411.7" stroke-width="1.1" stroke-opacity="1"/>
<line x1="106.6" y1="407.9" x2="106.6" y2="415.5" stroke-width="1.1" stroke-opacity="1"/>
<line x1="106.0" y1="411.5" x2="106.0" y2="412.0" stroke-width="2" stroke-opacity="0.57"/>
<line x1="103.0" y1="411.5" x2="109.0" y2="411.5" stroke-width="2" stroke-opacity="0.57"/>
<line x1="103.0" y1="412.0" x2="109.0" y2="412.0" stroke-width="2" stroke-opacity="0.57"/>
<line x1="105.1" y1="411.7" x2="107.1" y2="411.7" stroke-width="2" stroke-opacity="0.57"/>
<line x1="105.1" y1="408.7" x2="105.1" y2="414.7" stroke-width="2" stroke-opacity="0.57"/>
<line x1="107.1" y1="408.7" x2="107.1" y2="414.7" stroke-width="2" stroke-opacity="0.57"/>
<line x1="102.3" y1="411.7" x2="109.9" y2="411.7" stroke-width="1.1" stroke-opacity="1"/>
<line x1="106.1" y1="407.9" x2="106.1" y2="415.5" stroke-width="1.1" stroke-opacity="1"/>
<line x1="106.0" y1="411.5" x2="106.0" y2="412.0" stroke-width="2" stroke-opacity="0.57"/>
<line x1="103.0" y1="411.5" x2="109.0" y2="411.5" stroke-width="2" stroke-opacity="0.57"/>
<line x1="103.0" y1="412.0" x2="109.0" y2="412.0" stroke-width="2" stroke-opacity="0.57"/>
<line x1="104.5" y1="411.7" x2="106.5" y2="411.7" stroke-width="2" stroke-opacity="0.57"/>
<line x1="104.5" y1="408.7" x2="104.5" y2="414.7" stroke-width="2" stroke-opacity="0.57"/>
<line x1="106.5" y1="408.7" x2="106.5" y2="414.7" stroke-width="2" stroke-opacity="0.57"/>
<line x1="101.7" y1="411.7" x2="109.3" y2="411.7" stroke-width="1.1" stroke-opacity="1"/>
<line x1="105.5" y1="407.9" x2="105.5" y2="415.5" stroke-width="1.1" stroke-opacity="1"/>
<line x1="105.0" y1="411.5" x2="105.0" y2="412.0" stroke-width="2" stroke-opacity="0.57"/>
<line x1="102.0" y1="411.5" x2="108.0" y2="411.5" stroke-width="2" stroke-opacity="0.57"/>
<line x1="102.0" y1="412.0" x2="108.0" y2="412.0" stroke-width="2" stroke-opacity="0.57"/>
<line x1="104.0" y1="411.7" x2="106.0" y2="411.7" stroke-width="2" stroke-opacity="0.57"/>
<line x1="104.0" y1="408.7" x2="104.0" y2="414.7" stroke-width="2" stroke-opacity="0.57"/>
<line x1="106.0" y1="408.7" x2="106.0" y2="414.7" stroke-width="2" stroke-opacity="0.57"/>
<line x1="101.2" y1="411.7" x2="108.8" y2="411.7" stroke-width="1.1" stroke-opacity="1"/>
<line x1="105.0" y1="407.9" x2="105.0" y2="415.5" stroke-width="1.1" stroke-opacity="1"/>
<line x1="105.0" y1="411.5" x2="105.0" y2="412.0" stroke-width="2" stroke-opacity="0.57"/>
<line x1="102.0" y1="411.5" x2="108.0" y2="411.5" stroke-width="2" stroke-opacity="0.57"/>
<line x1="102.0" y1="412.0" x2="108.0" y2="412.0" stroke-width="2" stroke-opacity="0.57"/>
<line x1="103.4" y1="411.8" x2="105.4" y2="411.8" stroke-width="2" stroke-opacity="0.57"/>
<line x1="103.4" y1="408.8" x2="103.4" y2="414.8" stroke-width="2" stroke-opacity="0.57"/>
<line x1="105.4" y1="408.8" x2="105.4" y2="414.8" stroke-width="2" stroke-opacity="0.57"/>
<line x1="100.6" y1="411.8" x2="108.2" y2="411.8" stroke-width="1.1" stroke-opacity="1"/>
<line x1="104.4" y1="408.0" x2="104.4" y2="415.6" stroke-width="1.1" stroke-opacity="1"/>
<line x1="104.0" y1="411.5" x2="104.0" y2="412.0" stroke-width="2" stroke-opacity="0.57"/>
<line x1="101.0" y1="411.5" x2="107.0" y2="411.5" stroke-width="2" stroke-opacity="0.57"/>
<line x1="101.0" y1="412.0" x2="107.0" y2="412.0" stroke-width="2" stroke-opacity="0.57"/>
<line x1="102.9" y1="411.8" x2="104.9" y2="411.8" stroke-width="2" stroke-opacity="0.57"/>
<line x1="102.9" y1="408.8" x2="102.9" y2="414.8" stroke-width="2" stroke-opacity="0.57"/>
<line x1="104.9" y1="408.8" x2="104.9" y2="414.8" stroke-width="2" stroke-opacity="0.57"/>
<line x1="100.1" y1="411.8" x2="107.7" y2="411.8" stroke-width="1.1" stroke-opacity="1"/>
<line x1="103.9" y1="408.0" x2="103.9" y2="415.6" stroke-width="1.1" stroke-opacity="1"/>
<line x1="104.0" y1="411.5" x2="104.0" y2="412.0" stroke-width="2" stroke-opacity="0.57"/>
<line x1="101.0" y1="411.5" x2="107.0" y2="411.5" stroke-width="2" stroke-opacity="0.57"/>
<line x1="101.0" y1="412.0" x2="107.0" y2="412.0" stroke-width="2" stroke-opacity="0.57"/>
<line x1="102.4" y1="411.8" x2="104.4" y2="411.8" stroke-width="2" stroke-opacity="0.57"/>
<line x1="102.4" y1="408.8" x2="102.4" y2="414.8" stroke-width="2" stroke-opacity="0.57"/>
<line x1="104.4" y1="408.8" x2="104.4" y2="414.8" stroke-width="2" stroke-opacity="0.57"/>
<line x1="99.6" y1="411.8" x2="107.2" y2="411.8" stroke-width="1.1" stroke-opacity="1"/>
<line x1="103.4" y1="408.0" x2="103.4" y2="415.6" stroke-width="1.1" stroke-opacity="1"/>
<line x1="103.0" y1="411.5" x2="103.0" y2="412.0" stroke-width="2" stroke-opacity="0.57"/>
<line x1="100.0" y1="411.5" x2="106.0" y2="411.5" stroke-width="2" stroke-opacity="0.57"/>
<line x1="100.0" y1="412.0" x2="106.0" y2="412.0" stroke-width="2" stroke-opacity="0.57"/>
<line x1="101.9" y1="411.8" x2="103.9" y2="411.8" stroke-width="2" stroke-opacity="0.57"/>
<line x1="101.9" y1="408.8" x2="101.9" y2="414.8" stroke-width="2" stroke-opacity="0.57"/>
<line x1="103.9" y1="408.8" x2="103.9" y2="414.8" stroke-width="2" stroke-opacity="0.57"/>
<line x1="99.1" y1="411.8" x2="106.7" y2="411.8" stroke-width="1.1" stroke-opacity="1"/>
<line x1="102.9" y1="408.0" x2="102.9" y2="415.6" stroke-width="1.1" stroke-opacity="1"/>
<line x1="103.0" y1="411.5" x2="103.0" y2="412.0" stroke-width="2" stroke-opacity="0.57"/>
<line x1="100.0" y1="411.5" x2="106.0" y2="411.5" stroke-width="2" stroke-opacity="0.57"/>
<line x1="100.0" y1="412.0" x2="106.0" y2="412.0" stroke-width="2" stroke-opacity="0.57"/>
<line x1="101.4" y1="411.8" x2="103.4" y2="411.8" stroke-width="2" stroke-opacity="0.57"/>
<line x1="101.4" y1="408.8" x2="101.4" y2="414.8" stroke-width="2" stroke-opacity="0.57"/>
<line x1="103.4" y1="408.8" x2="103.4" y2="414.8" stroke-width="2" stroke-opacity="0.57"/>
<line x1="98.6" y1="411.8" x2="106.2" y2="411.8" stroke-width="1.1" stroke-opacity="1"/>
<line x1="102.4" y1="408.0" x2="102.4" y2="415.6" stroke-width="1.1" stroke-opacity="1"/>
<line x1="102.0" y1="411.5" x2="102.0" y2="412.0" stroke-width="2" stroke-opacity="0.57"/>
<line x1="99.0" y1="411.5" x2="105.0" y2="411.5" stroke-width="2" stroke-opacity="0.57"/>
<line x1="99.0" y1="412.0" x2="105.0" y2="412.0" stroke-width="2" stroke-opacity="0.57"/>
<line x1="100.9" y1="411.8" x2="102.9" y2="411.8" stroke-width="2" stroke-opacity="0.57"/>
<line x1="100.9" y1="408.8" x2="100.9" y2="414.8" stroke-width="2" stroke-opacity="0.57"/>
<line x1="102.9" y1="408.8" x2="102.9" y2="414.8" stroke-width="2" stroke-opacity="0.57"/>
<line x1="98.1" y1="411.8" x2="105.7" y2="411.8" stroke-width="1.1" stroke-opacity="1"/>
<line x1="101.9" y1="408.0" x2="101.9" y2="415.6" stroke-width="1.1" stroke-opacity="1"/>
<line x1="102.0" y1="411.5" x2="102.0" y2="412.0" stroke-width="2" stroke-opacity="0.57"/>
<line x1="99.0" y1="411.5" x2="105.0" y2="411.5" stroke-width="2" stroke-opacity="0.57"/>
<line x1="99.0" y1="412.0" x2="105.0" y2="412.0" stroke-width="2" stroke-opacity="0.57"/>
<line x1="100.4" y1="411.8" x2="102.4" y2="411.8" stroke-width="2" stroke-opacity="0.57"/>
<line x1="100.4" y1="408.8" x2="100.4" y2="414.8" stroke-width="2" stroke-opacity="0.57"/>
<line x1="102.4" y1="408.8" x2="102.4" y2="414.8" stroke-width="2" stroke-opacity="0.57"/>
<line x1="97.6" y1="411.8" x2="105.2" y2="411.8" stroke-width="1.1" stroke-opacity="1"/>
<line x1="101.4" y1="408.0" x2="101.4" y2="415.6" stroke-width="1.1" stroke-opacity="1"/>
<line x1="101.0" y1="411.6" x2="101.0" y2="412.0" stroke-width="2" stroke-opacity="0.57"/>
<line x1="98.0" y1="411.6" x2="104.0" y2="411.6" stroke-width="2" stroke-opacity="0.57"/>
<line x1="98.0" y1="412.0" x2="104.0" y2="412.0" stroke-width="2" stroke-opacity="0.57"/>
<line x1="99.9" y1="411.8" x2="101.9" y2="411.8" stroke-width="2" stroke-opacity="0.57"/>
<line x1="99.9" y1="408.8" x2="99.9" y2="414.8" stroke-width="2" stroke-opacity="0.57"/>
<line x1="101.9" y1="408.8" x2="101.9" y2="414.8" stroke-width="2" stroke-opacity="0.57"/>
<line x1="97.1" y1="411.8" x2="104.7" y2="411.8" stroke-width="1.1" stroke-opacity="1"/>
<line x1="100.9" y1="408.0" x2="100.9" y2="415.6" stroke-width="1.1" stroke-opacity="1"/>
<line x1="101.0" y1="411.6" x2="101.0" y2="412.0" stroke-width="2" stroke-opacity="0.57"/>
<line x1="98.0" y1="411.6" x2="104.0" y2="411.6" stroke-width="2" stroke-opacity="0.57"/>
<line x1="98.0" y1="412.0" x2="104.0" y2="412.0" stroke-width="2" stroke-opacity="0.57"/>
<line x1="99.5" y1="411.8" x2="101.4" y2="411.8" stroke-width="2" stroke-opacity="0.57"/>
<line x1="99.5" y1="408.8" x2="99.5" y2="414.8" stroke-width="2" stroke-opacity="0.57"/>
<line x1="101.4" y1="408.8" x2="101.4" y2="414.8" stroke-width="2" stroke-opacity="0.57"/>
<line x1="96.6" y1="411.8" x2="104.2" y2="411.8" stroke-width="1.1" stroke-opacity="1"/>
<line x1="100.4" y1="408.0" x2="100.4" y2="415.6" stroke-width="1.1" stroke-opacity="1"/>
<path d="M36.0,411.8 L37.0,411.8 L38.0,411.8 L39.0,411.8 L40.0,411.8 L41.0,411.8 L42.0,411.8 L43.0,411.8 L44.0,411.8 L45.0,411.8 L46.0,411.8 L47.0,411.8 L48.0,411.8 L49.0,411.8 L50.0,411.8 L51.0,411.8 L52.0,411.8 L53.0,411.8 L54.0,411.8 L55.0,411.8 L56.0,411.8 L57.0,411.8 L58.0,411.8 L59.0,411.8 L60.0,411.8 L61.0,411.8 L62.0,411.8 L63.0,411.8 L64.0,411.8 L65.0,411.8 L66.0,411.8 L67.0,411.8 L68.0,411.8 L69.0,411.8 L70.0,411.8 L71.0,411.8 L72.0,411.8 L73.0,411.8 L74.0,411.8 L75.0,411.8 L76.0,411.8 L77.0,411.8 L78.0,411.8 L79.0,411.8 L80.0,411.8 L81.0,411.8 L82.0,411.8 L83.0,411.8 L84.0,411.8 L85.0,411.8 L86.0,411.8 L87.0,411.8 L88.0,411.8 L89.0,411.8 L90.0,411.8 L91.0,411.8 L92.0,411.8 L93.0,411.8 L94.0,411.8 L95.0,411.8 L96.0,411.8 L97.0,411.8 L98.0,411.8 L99.0,411.8 L100.4,411.8 L100.9,411.8 L101.4,411.8 L101.9,411.8 L102.4,411.8 L102.9,411.8 L103.4,411.8 L103.9,411.8 L104.4,411.8 L105.0,411.7 L105.5,411.7 L106.1,411.7 L106.6,411.7 L107.2,411.7 L107.8,411.7 L108.4,411.7 L109.0,411.7 L109.6,411.7 L110.2,411.7 L110.8,411.7 L111.5,411.7 L112.1,411.7 L112.8,411.7 L113.4,411.7 L114.1,411.7 L114.8,411.7 L115.5,411.7 L116.2,411.6 L117.0,411.6 L117.7,411.6 L118.5,411.6 L119.2,411.6 L120.0,411.6 L120.8,411.6 L121.6,411.6 L122.5,411.5 L123.3,411.5 L124.2,411.5 L125.1,411.5 L126.0,411.4 L126.9,411.4 L127.8,411.3 L128.8,411.3 L129.7,411.2 L130.7,411.1 L131.7,411.0 L132.8,411.0 L133.8,410.9 L134.9,410.8 L136.0,410.7 L137.1,410.6 L138.3,410.5 L139.5,410.3 L140.7,410.2 L141.9,410.0 L143.2,409.8 L144.5,409.6 L145.8,409.3 L147.2,409.1 L148.5,408.7 L150.0,408.3 L151.4,407.9 L152.9,407.4 L154.5,406.8 L156.0,406.1 L157.7,405.3 L159.3,404.3 L161.0,403.3 L162.8,402.2 L164.6,400.8 L166.4,399.1 L168.3,397.3 L170.3,395.5 L172.3,393.8 L174.4,392.0 L176.6,389.9 L178.8,387.3 L181.0,384.4 L183.4,381.3 L185.8,377.8 L188.5,373.7 L191.1,369.5 L193.9,364.5 L196.7,359.2 L199.8,354.2 L202.7,349.6 L205.8,343.6 L208.9,336.6 L211.9,330.1 L215.3,323.5 L218.8,314.5 L222.8,303.8 L226.8,293.2 L231.0,282.6 L235.1,273.1 L239.3,263.2 L243.9,252.3 L248.7,240.8 L253.9,230.3 L259.0,219.7 L264.0,211.0 L269.9,201.0 L275.8,192.8 L281.9,186.3 L288.0,180.1 L295.1,175.3 L302.8,171.3 L310.2,170.8 L318.2,170.8 L327.0,171.4 L336.1,174.9 L346.0,178.8 L356.8,184.0 L368.1,190.8 L380.1,197.8 L392.9,206.2 L407.1,215.0 L422.0,223.8 L438.0,233.6 L456.1,243.8 L476.1,254.7 L498.1,264.8 L522.3,274.4 L549.1,284.6 L579.8,294.8 L613.5,304.8 L653.1,314.2 L696.9,323.1" stroke-width="1.15"/>
</g>
</g>
</svg>
<g stroke="#9400d3" fill="none">
<line x1="654" y1="20.8" x2="678.2" y2="20.8" stroke-width="2" stroke-opacity="0.57"/>
<line x1="654" y1="17.6" x2="654" y2="24" stroke-width="2" stroke-opacity="0.57"/>
<line x1="678.2" y1="17.6" x2="678.2" y2="24" stroke-width="2" stroke-opacity="0.57"/>
<line x1="662" y1="20.8" x2="670" y2="20.8" stroke-width="1.2"/>
<line x1="666" y1="16.8" x2="666" y2="24.8" stroke-width="1.2"/>
</g>
<g stroke="#262626" stroke-width="2" fill="none">
<path d="M34.0,12.0 L688.0,12.0 L688.0,479.0 L34.0,479.0 Z"/>
</g>
<g>
<text x="29.8" y="482.1" text-anchor="end">-1</text>
<text x="29.8" y="415.4" text-anchor="end">0</text>
<text x="29.8" y="348.7" text-anchor="end">1</text>
<text x="29.8" y="282.0" text-anchor="end">2</text>
<text x="29.8" y="215.2" text-anchor="end">3</text>
<text x="29.8" y="148.5" text-anchor="end">4</text>
<text x="29.8" y="81.8" text-anchor="end">5</text>
<text x="29.8" y="15.1" text-anchor="end">6</text>
<text x="35.5" y="494" text-anchor="middle">0</text>
<text x="166.3" y="494" text-anchor="middle">0.2</text>
<text x="297.1" y="494" text-anchor="middle">0.4</text>
<text x="427.9" y="494" text-anchor="middle">0.6</text>
<text x="558.7" y="494" text-anchor="middle">0.8</text>
<text x="689.5" y="494" text-anchor="middle">1</text>
<text x="361.5" y="510" text-anchor="middle">Temperature</text>
<text x="0" y="0" text-anchor="middle" transform="translate(12.9,244.9) rotate(-90)">Spesific heat</text>
<text x="645.2" y="24.8" text-anchor="end">"ave_TPQ.dat" u 1:5:2:6</text>
</g>
</svg>
</body></html>
